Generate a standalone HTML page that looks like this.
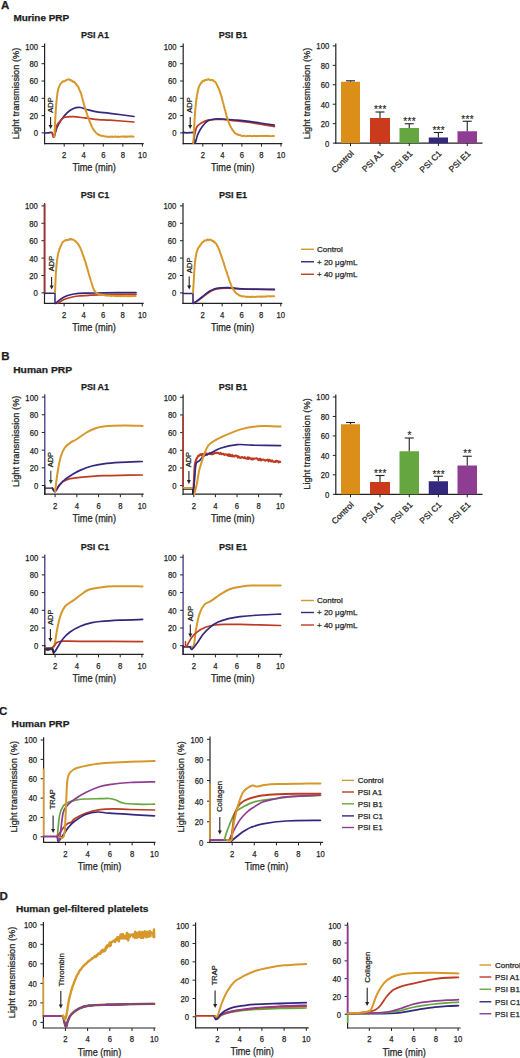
<!DOCTYPE html>
<html><head><meta charset="utf-8"><style>
html,body{margin:0;padding:0;background:#fff;overflow:hidden;width:520px;height:1058px;}
svg{display:block;font-family:"Liberation Sans", sans-serif;} text{stroke:#1e1e1e;stroke-width:0.25px;}
</style></head><body>
<svg width="520" height="1058" viewBox="0 0 520 1058">
<rect width="520" height="1058" fill="#fff"/>
<text x="1.00" y="8.80" font-size="11.5" text-anchor="start" fill="#1e1e1e" font-weight="bold">A</text>
<text x="13.40" y="21.30" font-size="9.4" text-anchor="start" fill="#1e1e1e" font-weight="bold" textLength="55.8" lengthAdjust="spacingAndGlyphs">Murine PRP</text>
<line x1="44.60" y1="43.60" x2="44.60" y2="144.20" stroke="#222" stroke-width="1.2"/>
<line x1="44.00" y1="143.60" x2="143.70" y2="143.60" stroke="#222" stroke-width="1.2"/>
<line x1="41.60" y1="132.90" x2="44.60" y2="132.90" stroke="#222" stroke-width="1.0"/>
<text x="38.00" y="136.30" font-size="9.0" text-anchor="end" fill="#1e1e1e" textLength="4.28" lengthAdjust="spacingAndGlyphs">0</text>
<line x1="41.60" y1="115.60" x2="44.60" y2="115.60" stroke="#222" stroke-width="1.0"/>
<text x="38.00" y="119.00" font-size="9.0" text-anchor="end" fill="#1e1e1e" textLength="8.56" lengthAdjust="spacingAndGlyphs">20</text>
<line x1="41.60" y1="98.30" x2="44.60" y2="98.30" stroke="#222" stroke-width="1.0"/>
<text x="38.00" y="101.70" font-size="9.0" text-anchor="end" fill="#1e1e1e" textLength="8.56" lengthAdjust="spacingAndGlyphs">40</text>
<line x1="41.60" y1="81.00" x2="44.60" y2="81.00" stroke="#222" stroke-width="1.0"/>
<text x="38.00" y="84.40" font-size="9.0" text-anchor="end" fill="#1e1e1e" textLength="8.56" lengthAdjust="spacingAndGlyphs">60</text>
<line x1="41.60" y1="63.70" x2="44.60" y2="63.70" stroke="#222" stroke-width="1.0"/>
<text x="38.00" y="67.10" font-size="9.0" text-anchor="end" fill="#1e1e1e" textLength="8.56" lengthAdjust="spacingAndGlyphs">80</text>
<line x1="41.60" y1="46.40" x2="44.60" y2="46.40" stroke="#222" stroke-width="1.0"/>
<text x="38.00" y="49.80" font-size="9.0" text-anchor="end" fill="#1e1e1e" textLength="12.84" lengthAdjust="spacingAndGlyphs">100</text>
<line x1="64.20" y1="143.60" x2="64.20" y2="146.60" stroke="#222" stroke-width="1.0"/>
<text x="64.20" y="157.90" font-size="9.0" text-anchor="middle" fill="#1e1e1e" textLength="4.28" lengthAdjust="spacingAndGlyphs">2</text>
<line x1="83.75" y1="143.60" x2="83.75" y2="146.60" stroke="#222" stroke-width="1.0"/>
<text x="83.75" y="157.90" font-size="9.0" text-anchor="middle" fill="#1e1e1e" textLength="4.28" lengthAdjust="spacingAndGlyphs">4</text>
<line x1="103.30" y1="143.60" x2="103.30" y2="146.60" stroke="#222" stroke-width="1.0"/>
<text x="103.30" y="157.90" font-size="9.0" text-anchor="middle" fill="#1e1e1e" textLength="4.28" lengthAdjust="spacingAndGlyphs">6</text>
<line x1="122.85" y1="143.60" x2="122.85" y2="146.60" stroke="#222" stroke-width="1.0"/>
<text x="122.85" y="157.90" font-size="9.0" text-anchor="middle" fill="#1e1e1e" textLength="4.28" lengthAdjust="spacingAndGlyphs">8</text>
<line x1="142.40" y1="143.60" x2="142.40" y2="146.60" stroke="#222" stroke-width="1.0"/>
<text x="142.40" y="157.90" font-size="9.0" text-anchor="middle" fill="#1e1e1e" textLength="8.56" lengthAdjust="spacingAndGlyphs">10</text>
<text x="94.15" y="171.20" font-size="10.2" text-anchor="middle" fill="#1e1e1e" textLength="43.5" lengthAdjust="spacingAndGlyphs">Time (min)</text>
<text x="95.00" y="37.60" font-size="9" text-anchor="middle" fill="#1e1e1e" font-weight="bold">PSI A1</text>
<text x="18.90" y="93.40" font-size="9.9" text-anchor="middle" fill="#1e1e1e" transform="rotate(-90 18.90 93.40)" textLength="91.5" lengthAdjust="spacingAndGlyphs">Light transmission (%)</text>
<line x1="183.20" y1="43.60" x2="183.20" y2="144.20" stroke="#222" stroke-width="1.2"/>
<line x1="182.60" y1="143.60" x2="282.30" y2="143.60" stroke="#222" stroke-width="1.2"/>
<line x1="180.20" y1="132.90" x2="183.20" y2="132.90" stroke="#222" stroke-width="1.0"/>
<text x="176.60" y="136.30" font-size="9.0" text-anchor="end" fill="#1e1e1e" textLength="4.28" lengthAdjust="spacingAndGlyphs">0</text>
<line x1="180.20" y1="115.60" x2="183.20" y2="115.60" stroke="#222" stroke-width="1.0"/>
<text x="176.60" y="119.00" font-size="9.0" text-anchor="end" fill="#1e1e1e" textLength="8.56" lengthAdjust="spacingAndGlyphs">20</text>
<line x1="180.20" y1="98.30" x2="183.20" y2="98.30" stroke="#222" stroke-width="1.0"/>
<text x="176.60" y="101.70" font-size="9.0" text-anchor="end" fill="#1e1e1e" textLength="8.56" lengthAdjust="spacingAndGlyphs">40</text>
<line x1="180.20" y1="81.00" x2="183.20" y2="81.00" stroke="#222" stroke-width="1.0"/>
<text x="176.60" y="84.40" font-size="9.0" text-anchor="end" fill="#1e1e1e" textLength="8.56" lengthAdjust="spacingAndGlyphs">60</text>
<line x1="180.20" y1="63.70" x2="183.20" y2="63.70" stroke="#222" stroke-width="1.0"/>
<text x="176.60" y="67.10" font-size="9.0" text-anchor="end" fill="#1e1e1e" textLength="8.56" lengthAdjust="spacingAndGlyphs">80</text>
<line x1="180.20" y1="46.40" x2="183.20" y2="46.40" stroke="#222" stroke-width="1.0"/>
<text x="176.60" y="49.80" font-size="9.0" text-anchor="end" fill="#1e1e1e" textLength="12.84" lengthAdjust="spacingAndGlyphs">100</text>
<line x1="202.80" y1="143.60" x2="202.80" y2="146.60" stroke="#222" stroke-width="1.0"/>
<text x="202.80" y="157.90" font-size="9.0" text-anchor="middle" fill="#1e1e1e" textLength="4.28" lengthAdjust="spacingAndGlyphs">2</text>
<line x1="222.35" y1="143.60" x2="222.35" y2="146.60" stroke="#222" stroke-width="1.0"/>
<text x="222.35" y="157.90" font-size="9.0" text-anchor="middle" fill="#1e1e1e" textLength="4.28" lengthAdjust="spacingAndGlyphs">4</text>
<line x1="241.90" y1="143.60" x2="241.90" y2="146.60" stroke="#222" stroke-width="1.0"/>
<text x="241.90" y="157.90" font-size="9.0" text-anchor="middle" fill="#1e1e1e" textLength="4.28" lengthAdjust="spacingAndGlyphs">6</text>
<line x1="261.45" y1="143.60" x2="261.45" y2="146.60" stroke="#222" stroke-width="1.0"/>
<text x="261.45" y="157.90" font-size="9.0" text-anchor="middle" fill="#1e1e1e" textLength="4.28" lengthAdjust="spacingAndGlyphs">8</text>
<line x1="281.00" y1="143.60" x2="281.00" y2="146.60" stroke="#222" stroke-width="1.0"/>
<text x="281.00" y="157.90" font-size="9.0" text-anchor="middle" fill="#1e1e1e" textLength="8.56" lengthAdjust="spacingAndGlyphs">10</text>
<text x="232.75" y="171.20" font-size="10.2" text-anchor="middle" fill="#1e1e1e" textLength="43.5" lengthAdjust="spacingAndGlyphs">Time (min)</text>
<text x="233.00" y="37.60" font-size="9" text-anchor="middle" fill="#1e1e1e" font-weight="bold">PSI B1</text>
<line x1="44.50" y1="203.10" x2="44.50" y2="304.00" stroke="#222" stroke-width="1.2"/>
<line x1="43.90" y1="303.40" x2="143.70" y2="303.40" stroke="#222" stroke-width="1.2"/>
<line x1="41.50" y1="292.90" x2="44.50" y2="292.90" stroke="#222" stroke-width="1.0"/>
<text x="37.90" y="296.30" font-size="9.0" text-anchor="end" fill="#1e1e1e" textLength="4.28" lengthAdjust="spacingAndGlyphs">0</text>
<line x1="41.50" y1="275.50" x2="44.50" y2="275.50" stroke="#222" stroke-width="1.0"/>
<text x="37.90" y="278.90" font-size="9.0" text-anchor="end" fill="#1e1e1e" textLength="8.56" lengthAdjust="spacingAndGlyphs">20</text>
<line x1="41.50" y1="258.10" x2="44.50" y2="258.10" stroke="#222" stroke-width="1.0"/>
<text x="37.90" y="261.50" font-size="9.0" text-anchor="end" fill="#1e1e1e" textLength="8.56" lengthAdjust="spacingAndGlyphs">40</text>
<line x1="41.50" y1="240.70" x2="44.50" y2="240.70" stroke="#222" stroke-width="1.0"/>
<text x="37.90" y="244.10" font-size="9.0" text-anchor="end" fill="#1e1e1e" textLength="8.56" lengthAdjust="spacingAndGlyphs">60</text>
<line x1="41.50" y1="223.30" x2="44.50" y2="223.30" stroke="#222" stroke-width="1.0"/>
<text x="37.90" y="226.70" font-size="9.0" text-anchor="end" fill="#1e1e1e" textLength="8.56" lengthAdjust="spacingAndGlyphs">80</text>
<line x1="41.50" y1="205.90" x2="44.50" y2="205.90" stroke="#222" stroke-width="1.0"/>
<text x="37.90" y="209.30" font-size="9.0" text-anchor="end" fill="#1e1e1e" textLength="12.84" lengthAdjust="spacingAndGlyphs">100</text>
<line x1="64.10" y1="303.40" x2="64.10" y2="306.40" stroke="#222" stroke-width="1.0"/>
<text x="64.10" y="317.70" font-size="9.0" text-anchor="middle" fill="#1e1e1e" textLength="4.28" lengthAdjust="spacingAndGlyphs">2</text>
<line x1="83.65" y1="303.40" x2="83.65" y2="306.40" stroke="#222" stroke-width="1.0"/>
<text x="83.65" y="317.70" font-size="9.0" text-anchor="middle" fill="#1e1e1e" textLength="4.28" lengthAdjust="spacingAndGlyphs">4</text>
<line x1="103.20" y1="303.40" x2="103.20" y2="306.40" stroke="#222" stroke-width="1.0"/>
<text x="103.20" y="317.70" font-size="9.0" text-anchor="middle" fill="#1e1e1e" textLength="4.28" lengthAdjust="spacingAndGlyphs">6</text>
<line x1="122.75" y1="303.40" x2="122.75" y2="306.40" stroke="#222" stroke-width="1.0"/>
<text x="122.75" y="317.70" font-size="9.0" text-anchor="middle" fill="#1e1e1e" textLength="4.28" lengthAdjust="spacingAndGlyphs">8</text>
<line x1="142.30" y1="303.40" x2="142.30" y2="306.40" stroke="#222" stroke-width="1.0"/>
<text x="142.30" y="317.70" font-size="9.0" text-anchor="middle" fill="#1e1e1e" textLength="8.56" lengthAdjust="spacingAndGlyphs">10</text>
<text x="94.10" y="331.00" font-size="10.2" text-anchor="middle" fill="#1e1e1e" textLength="43.5" lengthAdjust="spacingAndGlyphs">Time (min)</text>
<text x="95.00" y="197.60" font-size="9" text-anchor="middle" fill="#1e1e1e" font-weight="bold">PSI C1</text>
<line x1="183.00" y1="203.10" x2="183.00" y2="304.00" stroke="#222" stroke-width="1.2"/>
<line x1="182.40" y1="303.40" x2="282.30" y2="303.40" stroke="#222" stroke-width="1.2"/>
<line x1="180.00" y1="292.90" x2="183.00" y2="292.90" stroke="#222" stroke-width="1.0"/>
<text x="176.40" y="296.30" font-size="9.0" text-anchor="end" fill="#1e1e1e" textLength="4.28" lengthAdjust="spacingAndGlyphs">0</text>
<line x1="180.00" y1="275.50" x2="183.00" y2="275.50" stroke="#222" stroke-width="1.0"/>
<text x="176.40" y="278.90" font-size="9.0" text-anchor="end" fill="#1e1e1e" textLength="8.56" lengthAdjust="spacingAndGlyphs">20</text>
<line x1="180.00" y1="258.10" x2="183.00" y2="258.10" stroke="#222" stroke-width="1.0"/>
<text x="176.40" y="261.50" font-size="9.0" text-anchor="end" fill="#1e1e1e" textLength="8.56" lengthAdjust="spacingAndGlyphs">40</text>
<line x1="180.00" y1="240.70" x2="183.00" y2="240.70" stroke="#222" stroke-width="1.0"/>
<text x="176.40" y="244.10" font-size="9.0" text-anchor="end" fill="#1e1e1e" textLength="8.56" lengthAdjust="spacingAndGlyphs">60</text>
<line x1="180.00" y1="223.30" x2="183.00" y2="223.30" stroke="#222" stroke-width="1.0"/>
<text x="176.40" y="226.70" font-size="9.0" text-anchor="end" fill="#1e1e1e" textLength="8.56" lengthAdjust="spacingAndGlyphs">80</text>
<line x1="180.00" y1="205.90" x2="183.00" y2="205.90" stroke="#222" stroke-width="1.0"/>
<text x="176.40" y="209.30" font-size="9.0" text-anchor="end" fill="#1e1e1e" textLength="12.84" lengthAdjust="spacingAndGlyphs">100</text>
<line x1="202.60" y1="303.40" x2="202.60" y2="306.40" stroke="#222" stroke-width="1.0"/>
<text x="202.60" y="317.70" font-size="9.0" text-anchor="middle" fill="#1e1e1e" textLength="4.28" lengthAdjust="spacingAndGlyphs">2</text>
<line x1="222.15" y1="303.40" x2="222.15" y2="306.40" stroke="#222" stroke-width="1.0"/>
<text x="222.15" y="317.70" font-size="9.0" text-anchor="middle" fill="#1e1e1e" textLength="4.28" lengthAdjust="spacingAndGlyphs">4</text>
<line x1="241.70" y1="303.40" x2="241.70" y2="306.40" stroke="#222" stroke-width="1.0"/>
<text x="241.70" y="317.70" font-size="9.0" text-anchor="middle" fill="#1e1e1e" textLength="4.28" lengthAdjust="spacingAndGlyphs">6</text>
<line x1="261.25" y1="303.40" x2="261.25" y2="306.40" stroke="#222" stroke-width="1.0"/>
<text x="261.25" y="317.70" font-size="9.0" text-anchor="middle" fill="#1e1e1e" textLength="4.28" lengthAdjust="spacingAndGlyphs">8</text>
<line x1="280.80" y1="303.40" x2="280.80" y2="306.40" stroke="#222" stroke-width="1.0"/>
<text x="280.80" y="317.70" font-size="9.0" text-anchor="middle" fill="#1e1e1e" textLength="8.56" lengthAdjust="spacingAndGlyphs">10</text>
<text x="232.65" y="331.00" font-size="10.2" text-anchor="middle" fill="#1e1e1e" textLength="43.5" lengthAdjust="spacingAndGlyphs">Time (min)</text>
<text x="233.00" y="197.60" font-size="9" text-anchor="middle" fill="#1e1e1e" font-weight="bold">PSI E1</text>
<path d="M44.60,133.00 C45.17,132.98 46.77,132.97 48.00,132.90 C49.23,132.83 51.00,131.93 52.00,132.60 C53.00,133.27 53.18,137.72 54.00,136.90 C54.82,136.08 55.65,130.58 56.90,127.70 C58.15,124.82 59.77,122.10 61.50,119.60 C63.23,117.10 65.38,114.52 67.30,112.70 C69.22,110.88 70.88,109.57 73.00,108.70 C75.12,107.83 77.50,107.32 80.00,107.50 C82.50,107.68 84.92,109.03 88.00,109.80 C91.08,110.57 94.83,111.52 98.50,112.10 C102.17,112.68 104.08,112.57 110.00,113.30 C115.92,114.03 130.00,115.97 134.00,116.50" fill="none" stroke="#33287E" stroke-width="1.7" stroke-linejoin="round" stroke-linecap="round" opacity="1"/>
<path d="M52.00,132.60 C52.33,133.32 53.18,138.10 54.00,136.90 C54.82,135.70 55.65,128.28 56.90,125.40 C58.15,122.52 60.15,120.95 61.50,119.60 C62.85,118.25 63.08,117.78 65.00,117.30 C66.92,116.82 69.73,116.60 73.00,116.70 C76.27,116.80 80.35,117.42 84.60,117.90 C88.85,118.38 94.27,119.22 98.50,119.60 C102.73,119.98 104.08,119.80 110.00,120.20 C115.92,120.60 130.00,121.70 134.00,122.00" fill="none" stroke="#BC3B22" stroke-width="1.7" stroke-linejoin="round" stroke-linecap="round" opacity="1"/>
<path d="M54.40,136.98 L54.45,135.34 L54.55,133.52 L54.63,131.80 L54.71,130.13 L54.79,128.51 L54.86,126.85 L54.96,125.05 L55.04,123.47 L55.13,121.86 L55.22,119.80 L55.31,118.19 L55.41,116.39 L55.53,114.68 L55.63,113.04 L55.73,111.22 L55.86,109.79 L55.96,108.50 L56.06,107.07 L56.19,105.36 L56.33,103.47 L56.51,101.38 L56.69,99.69 L56.84,97.96 L57.04,96.26 L57.29,94.33 L57.59,92.20 L57.95,90.45 L58.31,88.79 L58.81,87.60 L59.27,86.11 L60.01,84.77 L60.70,83.57 L61.45,82.88 L62.27,81.93 L63.16,81.12 L63.80,81.55 L64.49,81.21 L65.23,80.75 L66.02,80.35 L66.83,79.72 L67.64,79.50 L68.45,79.50 L69.23,79.28 L69.97,80.16 L70.71,79.98 L71.44,80.78 L72.17,80.66 L72.87,81.72 L73.55,82.08 L74.20,81.65 L74.80,82.38 L75.62,83.93 L76.35,84.27 L77.02,85.74 L77.67,86.09 L78.30,86.83 L78.95,88.68 L79.57,90.17 L80.31,91.57 L80.90,93.11 L81.40,94.75 L81.90,96.81 L82.40,98.60 L82.90,100.25 L83.30,101.88 L83.70,103.32 L84.11,104.77 L84.57,106.68 L85.15,108.26 L85.62,109.92 L86.20,111.67 L86.78,113.30 L87.29,115.08 L87.91,116.64 L88.41,118.35 L89.07,119.89 L89.65,121.49 L90.39,123.15 L91.03,124.61 L91.69,126.40 L92.37,127.71 L93.08,128.75 L93.80,130.19 L94.57,130.91 L95.37,131.95 L96.18,133.01 L97.02,133.64 L97.90,134.01 L98.50,134.84 L99.21,134.84 L99.95,135.17 L100.70,135.69 L101.48,135.68 L102.26,135.84 L103.04,135.88 L103.82,136.03 L104.55,136.41 L105.26,136.39 L106.08,136.68 L106.71,136.60 L107.67,136.66 L108.31,136.92 L109.08,136.69 L110.00,136.74 L110.76,136.89 L111.64,136.54 L112.29,136.53 L112.98,136.90 L113.72,136.86 L114.48,136.57 L115.28,136.53 L116.11,136.80 L116.96,136.90 L117.83,136.52 L118.72,136.89 L119.62,136.84 L120.53,136.70 L121.45,136.59 L122.36,136.43 L123.28,136.38 L124.18,136.84 L125.08,136.47 L125.96,136.69 L126.82,136.46 L127.66,136.73 L128.48,136.61 L129.26,136.45 L130.01,136.38 L130.73,136.64 L131.40,136.31 L132.02,136.38 L132.87,136.54 L133.59,136.68" fill="none" stroke="#D6982A" stroke-width="2.0" stroke-linejoin="round" stroke-linecap="round"/>
<line x1="50.60" y1="117.00" x2="50.60" y2="126.50" stroke="#222" stroke-width="1.1"/>
<path d="M48.60,125.00 L52.60,125.00 L50.60,129.00 Z" fill="#222"/>
<text x="52.60" y="105.00" font-size="7.5" text-anchor="middle" fill="#1e1e1e" transform="rotate(-90 52.60 105.00)">ADP</text>
<path d="M183.30,132.50 L187.00,132.80 L193.70,132.30" fill="none" stroke="#33287E" stroke-width="1.8" stroke-linejoin="round" stroke-linecap="round" opacity="1"/>
<path d="M193.20,143.00 C193.75,140.45 194.98,131.12 196.50,127.70 C198.02,124.28 200.38,123.75 202.30,122.50 C204.22,121.25 205.88,120.70 208.00,120.20 C210.12,119.70 212.50,119.62 215.00,119.50 C217.50,119.38 219.33,119.25 223.00,119.50 C226.67,119.75 232.50,120.50 237.00,121.00 C241.50,121.50 243.78,121.57 250.00,122.50 C256.22,123.43 270.25,125.92 274.30,126.60" fill="none" stroke="#BC3B22" stroke-width="1.7" stroke-linejoin="round" stroke-linecap="round" opacity="1"/>
<path d="M193.70,132.30 C193.92,134.08 194.33,142.62 195.00,143.00 C195.67,143.38 196.48,137.35 197.70,134.60 C198.92,131.85 200.58,128.80 202.30,126.50 C204.02,124.20 205.88,122.05 208.00,120.80 C210.12,119.55 212.50,119.30 215.00,119.00 C217.50,118.70 219.33,118.80 223.00,119.00 C226.67,119.20 233.33,119.90 237.00,120.20 C240.67,120.50 241.17,120.33 245.00,120.80 C248.83,121.27 255.12,122.27 260.00,123.00 C264.88,123.73 271.92,124.83 274.30,125.20" fill="none" stroke="#33287E" stroke-width="1.7" stroke-linejoin="round" stroke-linecap="round" opacity="1"/>
<path d="M193.20,142.99 L193.44,141.45 L193.59,139.83 L193.70,137.82 L193.80,135.88 L193.89,134.10 L193.98,132.22 L194.06,130.51 L194.14,128.81 L194.21,127.08 L194.29,125.35 L194.37,123.70 L194.46,121.76 L194.57,119.88 L194.66,118.18 L194.78,116.74 L194.89,114.71 L195.05,113.00 L195.19,110.98 L195.36,109.28 L195.50,107.53 L195.69,105.66 L195.88,104.04 L196.04,102.20 L196.29,100.19 L196.57,98.53 L196.77,96.95 L197.04,94.75 L197.39,93.72 L197.61,92.54 L197.84,90.55 L198.34,88.90 L198.97,86.61 L199.67,85.10 L200.43,84.06 L201.07,82.68 L201.78,82.49 L202.60,81.07 L203.25,80.76 L203.96,81.09 L204.71,80.31 L205.48,80.06 L206.25,80.04 L207.02,79.74 L207.75,79.52 L208.49,79.05 L209.28,79.78 L210.05,80.08 L210.81,80.18 L211.56,80.00 L212.28,79.91 L212.97,80.25 L213.58,81.00 L214.40,81.65 L215.16,81.83 L215.89,82.90 L216.60,84.12 L217.30,85.51 L218.03,87.32 L218.74,88.64 L219.43,90.22 L219.98,92.17 L220.66,94.04 L221.20,95.82 L221.70,97.42 L222.10,98.98 L222.50,100.47 L222.90,102.19 L223.40,103.78 L223.80,105.53 L224.30,107.21 L224.71,108.99 L225.22,110.60 L225.63,112.29 L226.05,113.88 L226.46,115.55 L226.98,117.07 L227.39,118.63 L228.00,120.33 L228.59,121.98 L229.16,123.55 L229.90,125.46 L230.53,126.47 L231.20,127.93 L231.84,128.62 L232.49,130.03 L233.17,130.74 L233.89,131.56 L234.66,132.67 L235.50,133.49 L236.40,133.65 L237.01,134.13 L237.62,134.69 L238.27,134.74 L238.94,134.93 L239.66,135.01 L240.44,135.20 L241.28,135.65 L242.21,135.98 L243.00,136.09 L243.62,135.90 L244.25,135.71 L244.90,135.90 L245.57,136.16 L246.26,136.20 L246.97,136.12 L247.70,135.91 L248.46,136.06 L249.24,136.03 L250.04,136.10 L250.88,135.91 L251.74,136.24 L252.63,136.20 L253.56,135.83 L254.51,135.89 L255.32,136.19 L255.98,135.89 L256.70,136.22 L257.45,136.01 L258.23,136.10 L259.05,136.10 L259.89,135.85 L260.75,135.88 L261.63,135.86 L262.52,136.07 L263.41,136.07 L264.31,135.79 L265.20,136.16 L266.08,135.92 L266.95,135.82 L267.80,135.91 L268.63,136.18 L269.43,135.96 L270.20,135.99 L270.94,136.13 L271.63,136.15 L272.28,136.04 L273.15,135.87 L273.89,135.95" fill="none" stroke="#D6982A" stroke-width="2.0" stroke-linejoin="round" stroke-linecap="round"/>
<line x1="190.20" y1="117.00" x2="190.20" y2="126.50" stroke="#222" stroke-width="1.1"/>
<path d="M188.20,125.00 L192.20,125.00 L190.20,129.00 Z" fill="#222"/>
<text x="192.40" y="105.00" font-size="7.5" text-anchor="middle" fill="#1e1e1e" transform="rotate(-90 192.40 105.00)">ADP</text>
<line x1="44.60" y1="204.00" x2="44.60" y2="293.00" stroke="#9a3030" stroke-width="1.8"/>
<path d="M44.50,293.20 L55.00,293.20 L55.00,303.50" fill="none" stroke="#3a2270" stroke-width="1.5" stroke-linejoin="round" stroke-linecap="round" opacity="1"/>
<path d="M57.80,303.30 C58.77,302.72 61.48,300.77 63.60,299.80 C65.72,298.83 68.00,298.13 70.50,297.50 C73.00,296.87 75.32,296.38 78.60,296.00 C81.88,295.62 85.97,295.43 90.20,295.20 C94.43,294.97 96.37,294.77 104.00,294.60 C111.63,294.43 130.67,294.27 136.00,294.20" fill="none" stroke="#BC3B22" stroke-width="1.7" stroke-linejoin="round" stroke-linecap="round" opacity="1"/>
<path d="M55.50,303.30 C56.47,302.53 59.38,299.95 61.30,298.70 C63.22,297.45 64.88,296.58 67.00,295.80 C69.12,295.02 71.10,294.43 74.00,294.00 C76.90,293.57 79.40,293.38 84.40,293.20 C89.40,293.02 95.40,293.02 104.00,292.90 C112.60,292.78 130.67,292.57 136.00,292.50" fill="none" stroke="#33287E" stroke-width="1.7" stroke-linejoin="round" stroke-linecap="round" opacity="1"/>
<path d="M55.00,292.18 L55.08,290.73 L55.15,289.17 L55.21,287.83 L55.27,285.94 L55.37,283.89 L55.44,282.11 L55.53,280.38 L55.61,278.85 L55.70,276.79 L55.79,275.29 L55.88,273.50 L56.00,271.65 L56.14,269.91 L56.28,268.32 L56.43,266.48 L56.58,264.53 L56.79,262.68 L57.00,260.76 L57.22,259.36 L57.41,258.00 L57.65,256.44 L57.89,255.05 L58.18,253.60 L58.58,252.07 L59.00,250.76 L59.45,248.89 L60.07,248.00 L60.53,246.48 L61.19,245.22 L61.90,243.59 L62.54,242.50 L63.31,241.60 L64.18,241.01 L64.84,240.49 L65.56,239.92 L66.31,240.37 L67.10,240.07 L67.89,240.05 L68.67,239.55 L69.44,239.29 L70.16,239.47 L70.87,238.83 L71.60,239.54 L72.32,239.47 L73.03,239.44 L73.71,239.80 L74.39,240.55 L75.04,240.72 L75.68,241.47 L76.30,242.22 L76.96,242.70 L77.59,243.19 L78.19,244.45 L78.96,245.44 L79.73,246.87 L80.50,248.41 L81.16,250.10 L81.79,251.47 L82.30,253.06 L82.94,254.92 L83.58,256.44 L84.09,258.10 L84.73,260.14 L85.37,261.67 L85.82,263.13 L86.26,264.90 L86.81,266.79 L87.37,268.64 L87.81,269.98 L88.26,271.69 L88.69,273.46 L89.22,275.34 L89.72,277.05 L90.34,278.82 L90.76,280.51 L91.28,281.99 L91.77,283.76 L92.36,285.30 L92.82,287.03 L93.49,288.59 L94.25,290.32 L95.02,291.35 L95.66,292.28 L96.50,292.94 L97.31,293.51 L98.15,293.87 L98.78,294.32 L99.51,294.38 L100.38,294.58 L101.41,294.73 L102.28,295.14 L103.14,294.98 L103.74,295.12 L104.37,295.12 L105.03,295.48 L105.71,295.50 L106.42,295.56 L107.15,295.37 L107.92,295.63 L108.70,295.64 L109.52,295.56 L110.36,295.56 L111.23,296.11 L112.13,295.71 L113.06,295.84 L114.01,295.85 L115.00,296.05 L115.63,295.81 L116.30,296.02 L117.02,295.98 L117.76,296.22 L118.54,295.81 L119.35,295.98 L120.18,296.07 L121.03,296.31 L121.89,296.08 L122.77,296.06 L123.65,296.16 L124.54,295.97 L125.43,295.83 L126.31,296.06 L127.19,296.26 L128.05,296.17 L128.90,295.93 L129.72,296.13 L130.52,296.21 L131.30,295.91 L132.04,296.07 L132.74,295.95 L133.41,295.89 L134.03,295.90 L134.87,295.86 L135.59,295.93" fill="none" stroke="#D6982A" stroke-width="2.0" stroke-linejoin="round" stroke-linecap="round"/>
<line x1="51.60" y1="277.00" x2="51.60" y2="287.00" stroke="#222" stroke-width="1.1"/>
<path d="M49.60,285.50 L53.60,285.50 L51.60,289.50 Z" fill="#222"/>
<text x="53.80" y="263.50" font-size="7.5" text-anchor="middle" fill="#1e1e1e" transform="rotate(-90 53.80 263.50)">ADP</text>
<path d="M183.00,293.50 L193.00,293.50 L193.00,303.50" fill="none" stroke="#3a2270" stroke-width="1.6" stroke-linejoin="round" stroke-linecap="round" opacity="1"/>
<path d="M193.50,303.30 C194.47,302.68 197.38,300.95 199.30,299.60 C201.22,298.25 203.08,296.60 205.00,295.20 C206.92,293.80 208.87,292.27 210.80,291.20 C212.73,290.13 213.70,289.32 216.60,288.80 C219.50,288.28 223.97,288.07 228.20,288.10 C232.43,288.13 234.32,288.75 242.00,289.00 C249.68,289.25 268.92,289.50 274.30,289.60" fill="none" stroke="#BC3B22" stroke-width="1.7" stroke-linejoin="round" stroke-linecap="round" opacity="1"/>
<path d="M193.50,303.30 C194.47,302.62 197.38,300.65 199.30,299.20 C201.22,297.75 203.08,296.03 205.00,294.60 C206.92,293.17 208.87,291.65 210.80,290.60 C212.73,289.55 213.70,288.78 216.60,288.30 C219.50,287.82 223.97,287.62 228.20,287.70 C232.43,287.78 234.32,288.52 242.00,288.80 C249.68,289.08 268.92,289.30 274.30,289.40" fill="none" stroke="#33287E" stroke-width="1.7" stroke-linejoin="round" stroke-linecap="round" opacity="1"/>
<path d="M193.00,292.80 L193.11,291.33 L193.21,289.59 L193.31,288.17 L193.41,286.14 L193.52,284.35 L193.63,282.79 L193.74,280.96 L193.84,279.22 L193.95,277.59 L194.05,275.91 L194.14,274.50 L194.24,272.56 L194.36,270.59 L194.49,268.94 L194.60,267.14 L194.73,265.30 L194.87,263.95 L195.05,262.07 L195.26,260.04 L195.53,258.26 L195.81,256.57 L196.11,254.73 L196.52,253.11 L196.92,251.30 L197.55,249.75 L198.26,247.94 L199.00,246.74 L199.66,246.52 L200.34,244.82 L201.04,244.46 L201.70,242.95 L202.69,242.01 L203.40,241.73 L204.06,241.18 L204.74,240.31 L205.50,240.60 L206.21,240.42 L206.97,239.71 L207.76,239.45 L208.56,240.20 L209.33,239.78 L210.06,239.52 L210.77,239.98 L211.47,239.97 L212.15,240.94 L212.83,241.02 L213.50,241.06 L214.29,242.48 L215.07,242.39 L215.84,243.44 L216.60,244.18 L217.25,246.03 L217.99,246.77 L218.56,248.51 L219.28,249.81 L219.72,251.39 L220.34,253.16 L220.94,254.75 L221.48,256.30 L222.03,257.98 L222.60,259.74 L223.09,261.34 L223.62,262.72 L224.04,264.21 L224.60,265.77 L225.14,267.70 L225.73,269.54 L226.36,271.03 L226.89,272.67 L227.42,274.57 L227.96,276.13 L228.49,277.45 L229.01,279.34 L229.63,281.27 L230.31,282.95 L230.90,284.52 L231.64,286.49 L232.41,288.30 L233.03,289.00 L233.65,289.89 L234.26,290.73 L235.00,291.99 L235.75,292.81 L236.57,293.49 L237.20,294.04 L237.84,294.29 L238.53,294.81 L239.25,295.49 L240.01,295.61 L240.79,295.73 L241.59,296.31 L242.34,296.22 L242.99,296.32 L243.62,296.34 L244.27,296.50 L244.97,296.61 L245.77,296.69 L246.70,297.05 L247.80,296.78 L248.69,296.78 L249.33,296.96 L250.00,297.11 L250.71,296.78 L251.44,297.00 L252.20,296.78 L252.97,296.86 L253.77,296.85 L254.58,296.99 L255.40,296.87 L256.23,296.72 L257.07,296.86 L257.91,296.59 L258.75,296.57 L259.58,296.84 L260.35,296.61 L261.10,296.71 L261.88,296.47 L262.70,296.75 L263.55,296.58 L264.41,296.38 L265.29,296.70 L266.17,296.45 L267.04,296.37 L267.91,296.31 L268.76,296.22 L269.59,296.25 L270.39,296.48 L271.14,296.19 L271.85,296.23 L272.51,296.31 L273.39,296.34 L274.10,296.24" fill="none" stroke="#D6982A" stroke-width="2.0" stroke-linejoin="round" stroke-linecap="round"/>
<line x1="189.20" y1="276.50" x2="189.20" y2="287.00" stroke="#222" stroke-width="1.1"/>
<path d="M187.20,285.50 L191.20,285.50 L189.20,289.50 Z" fill="#222"/>
<text x="191.60" y="265.20" font-size="7.5" text-anchor="middle" fill="#1e1e1e" transform="rotate(-90 191.60 265.20)">ADP</text>
<line x1="335.80" y1="43.40" x2="335.80" y2="143.70" stroke="#222" stroke-width="1.2"/>
<line x1="335.20" y1="143.10" x2="482.50" y2="143.10" stroke="#222" stroke-width="1.2"/>
<line x1="332.80" y1="143.10" x2="335.80" y2="143.10" stroke="#222" stroke-width="1.0"/>
<text x="329.20" y="146.50" font-size="9.0" text-anchor="end" fill="#1e1e1e" textLength="4.28" lengthAdjust="spacingAndGlyphs">0</text>
<line x1="332.80" y1="123.66" x2="335.80" y2="123.66" stroke="#222" stroke-width="1.0"/>
<text x="329.20" y="127.06" font-size="9.0" text-anchor="end" fill="#1e1e1e" textLength="8.56" lengthAdjust="spacingAndGlyphs">20</text>
<line x1="332.80" y1="104.22" x2="335.80" y2="104.22" stroke="#222" stroke-width="1.0"/>
<text x="329.20" y="107.62" font-size="9.0" text-anchor="end" fill="#1e1e1e" textLength="8.56" lengthAdjust="spacingAndGlyphs">40</text>
<line x1="332.80" y1="84.78" x2="335.80" y2="84.78" stroke="#222" stroke-width="1.0"/>
<text x="329.20" y="88.18" font-size="9.0" text-anchor="end" fill="#1e1e1e" textLength="8.56" lengthAdjust="spacingAndGlyphs">60</text>
<line x1="332.80" y1="65.34" x2="335.80" y2="65.34" stroke="#222" stroke-width="1.0"/>
<text x="329.20" y="68.74" font-size="9.0" text-anchor="end" fill="#1e1e1e" textLength="8.56" lengthAdjust="spacingAndGlyphs">80</text>
<line x1="332.80" y1="45.90" x2="335.80" y2="45.90" stroke="#222" stroke-width="1.0"/>
<text x="329.20" y="49.30" font-size="9.0" text-anchor="end" fill="#1e1e1e" textLength="12.84" lengthAdjust="spacingAndGlyphs">100</text>
<text x="310.20" y="93.40" font-size="9.9" text-anchor="middle" fill="#1e1e1e" transform="rotate(-90 310.20 93.40)" textLength="91.5" lengthAdjust="spacingAndGlyphs">Light transmission (%)</text>
<rect x="341.00" y="81.75" width="19.00" height="61.35" fill="#DB8E18"/>
<line x1="350.50" y1="81.75" x2="350.50" y2="80.80" stroke="#222" stroke-width="1.1"/>
<line x1="346.00" y1="80.80" x2="355.00" y2="80.80" stroke="#222" stroke-width="1.1"/>
<line x1="350.50" y1="143.10" x2="350.50" y2="146.10" stroke="#222" stroke-width="1.0"/>
<text x="354.30" y="154.10" font-size="8.5" text-anchor="end" fill="#1e1e1e" transform="rotate(-45 354.30 154.10)">Control</text>
<rect x="370.00" y="118.00" width="20.00" height="25.10" fill="#CB3A1B"/>
<line x1="380.00" y1="118.00" x2="380.00" y2="112.00" stroke="#222" stroke-width="1.1"/>
<line x1="375.50" y1="112.00" x2="384.50" y2="112.00" stroke="#222" stroke-width="1.1"/>
<text x="380.30" y="112.60" font-size="10" text-anchor="middle" fill="#222" style="stroke:#222;stroke-width:0.15px" letter-spacing="0.3">***</text>
<line x1="380.00" y1="143.10" x2="380.00" y2="146.10" stroke="#222" stroke-width="1.0"/>
<text x="383.80" y="154.10" font-size="8.5" text-anchor="end" fill="#1e1e1e" transform="rotate(-45 383.80 154.10)">PSI A1</text>
<rect x="399.50" y="128.00" width="19.50" height="15.10" fill="#66A640"/>
<line x1="409.25" y1="128.00" x2="409.25" y2="123.75" stroke="#222" stroke-width="1.1"/>
<line x1="404.75" y1="123.75" x2="413.75" y2="123.75" stroke="#222" stroke-width="1.1"/>
<text x="409.55" y="125.35" font-size="10" text-anchor="middle" fill="#222" style="stroke:#222;stroke-width:0.15px" letter-spacing="0.3">***</text>
<line x1="409.25" y1="143.10" x2="409.25" y2="146.10" stroke="#222" stroke-width="1.0"/>
<text x="413.05" y="154.10" font-size="8.5" text-anchor="end" fill="#1e1e1e" transform="rotate(-45 413.05 154.10)">PSI B1</text>
<rect x="428.75" y="137.50" width="19.25" height="5.60" fill="#33287E"/>
<line x1="438.38" y1="137.50" x2="438.38" y2="132.50" stroke="#222" stroke-width="1.1"/>
<line x1="433.88" y1="132.50" x2="442.88" y2="132.50" stroke="#222" stroke-width="1.1"/>
<text x="438.68" y="134.10" font-size="10" text-anchor="middle" fill="#222" style="stroke:#222;stroke-width:0.15px" letter-spacing="0.3">***</text>
<line x1="438.38" y1="143.10" x2="438.38" y2="146.10" stroke="#222" stroke-width="1.0"/>
<text x="442.18" y="154.10" font-size="8.5" text-anchor="end" fill="#1e1e1e" transform="rotate(-45 442.18 154.10)">PSI C1</text>
<rect x="457.50" y="131.25" width="19.50" height="11.85" fill="#8E3D92"/>
<line x1="467.25" y1="131.25" x2="467.25" y2="121.25" stroke="#222" stroke-width="1.1"/>
<line x1="462.75" y1="121.25" x2="471.75" y2="121.25" stroke="#222" stroke-width="1.1"/>
<text x="467.55" y="122.85" font-size="10" text-anchor="middle" fill="#222" style="stroke:#222;stroke-width:0.15px" letter-spacing="0.3">***</text>
<line x1="467.25" y1="143.10" x2="467.25" y2="146.10" stroke="#222" stroke-width="1.0"/>
<text x="471.05" y="154.10" font-size="8.5" text-anchor="end" fill="#1e1e1e" transform="rotate(-45 471.05 154.10)">PSI E1</text>
<line x1="301.00" y1="249.25" x2="314.00" y2="249.25" stroke="#D6982A" stroke-width="1.4"/>
<text x="317.00" y="252.15" font-size="8" text-anchor="start" fill="#1e1e1e">Control</text>
<line x1="301.00" y1="261.75" x2="314.00" y2="261.75" stroke="#33287E" stroke-width="1.4"/>
<text x="317.00" y="264.65" font-size="8" text-anchor="start" fill="#1e1e1e">+ 20 μg/mL</text>
<line x1="301.00" y1="274.25" x2="314.00" y2="274.25" stroke="#BC3B22" stroke-width="1.4"/>
<text x="317.00" y="277.15" font-size="8" text-anchor="start" fill="#1e1e1e">+ 40 μg/mL</text>
<text x="1.20" y="360.20" font-size="11.5" text-anchor="start" fill="#1e1e1e" font-weight="bold">B</text>
<text x="13.20" y="372.50" font-size="9.4" text-anchor="start" fill="#1e1e1e" font-weight="bold" textLength="58.9" lengthAdjust="spacingAndGlyphs">Human PRP</text>
<line x1="44.80" y1="394.30" x2="44.80" y2="494.80" stroke="#33287E" stroke-width="1.2"/>
<line x1="44.20" y1="494.20" x2="143.70" y2="494.20" stroke="#222" stroke-width="1.2"/>
<line x1="41.80" y1="485.50" x2="44.80" y2="485.50" stroke="#222" stroke-width="1.0"/>
<text x="38.20" y="488.90" font-size="9.0" text-anchor="end" fill="#1e1e1e" textLength="4.28" lengthAdjust="spacingAndGlyphs">0</text>
<line x1="41.80" y1="467.82" x2="44.80" y2="467.82" stroke="#222" stroke-width="1.0"/>
<text x="38.20" y="471.22" font-size="9.0" text-anchor="end" fill="#1e1e1e" textLength="8.56" lengthAdjust="spacingAndGlyphs">20</text>
<line x1="41.80" y1="450.14" x2="44.80" y2="450.14" stroke="#222" stroke-width="1.0"/>
<text x="38.20" y="453.54" font-size="9.0" text-anchor="end" fill="#1e1e1e" textLength="8.56" lengthAdjust="spacingAndGlyphs">40</text>
<line x1="41.80" y1="432.46" x2="44.80" y2="432.46" stroke="#222" stroke-width="1.0"/>
<text x="38.20" y="435.86" font-size="9.0" text-anchor="end" fill="#1e1e1e" textLength="8.56" lengthAdjust="spacingAndGlyphs">60</text>
<line x1="41.80" y1="414.78" x2="44.80" y2="414.78" stroke="#222" stroke-width="1.0"/>
<text x="38.20" y="418.18" font-size="9.0" text-anchor="end" fill="#1e1e1e" textLength="8.56" lengthAdjust="spacingAndGlyphs">80</text>
<line x1="41.80" y1="397.10" x2="44.80" y2="397.10" stroke="#222" stroke-width="1.0"/>
<text x="38.20" y="400.50" font-size="9.0" text-anchor="end" fill="#1e1e1e" textLength="12.84" lengthAdjust="spacingAndGlyphs">100</text>
<line x1="55.10" y1="494.20" x2="55.10" y2="497.20" stroke="#222" stroke-width="1.0"/>
<text x="55.10" y="508.50" font-size="9.0" text-anchor="middle" fill="#1e1e1e" textLength="4.28" lengthAdjust="spacingAndGlyphs">2</text>
<line x1="76.85" y1="494.20" x2="76.85" y2="497.20" stroke="#222" stroke-width="1.0"/>
<text x="76.85" y="508.50" font-size="9.0" text-anchor="middle" fill="#1e1e1e" textLength="4.28" lengthAdjust="spacingAndGlyphs">4</text>
<line x1="98.60" y1="494.20" x2="98.60" y2="497.20" stroke="#222" stroke-width="1.0"/>
<text x="98.60" y="508.50" font-size="9.0" text-anchor="middle" fill="#1e1e1e" textLength="4.28" lengthAdjust="spacingAndGlyphs">6</text>
<line x1="120.35" y1="494.20" x2="120.35" y2="497.20" stroke="#222" stroke-width="1.0"/>
<text x="120.35" y="508.50" font-size="9.0" text-anchor="middle" fill="#1e1e1e" textLength="4.28" lengthAdjust="spacingAndGlyphs">8</text>
<line x1="142.10" y1="494.20" x2="142.10" y2="497.20" stroke="#222" stroke-width="1.0"/>
<text x="142.10" y="508.50" font-size="9.0" text-anchor="middle" fill="#1e1e1e" textLength="8.56" lengthAdjust="spacingAndGlyphs">10</text>
<text x="94.25" y="521.80" font-size="10.2" text-anchor="middle" fill="#1e1e1e" textLength="43.5" lengthAdjust="spacingAndGlyphs">Time (min)</text>
<text x="95.00" y="389.60" font-size="9" text-anchor="middle" fill="#1e1e1e" font-weight="bold">PSI A1</text>
<text x="18.90" y="441.30" font-size="9.9" text-anchor="middle" fill="#1e1e1e" transform="rotate(-90 18.90 441.30)" textLength="91.5" lengthAdjust="spacingAndGlyphs">Light transmission (%)</text>
<line x1="183.10" y1="394.50" x2="183.10" y2="494.80" stroke="#222" stroke-width="1.2"/>
<line x1="182.50" y1="494.20" x2="282.30" y2="494.20" stroke="#222" stroke-width="1.2"/>
<line x1="180.10" y1="485.60" x2="183.10" y2="485.60" stroke="#222" stroke-width="1.0"/>
<text x="176.50" y="489.00" font-size="9.0" text-anchor="end" fill="#1e1e1e" textLength="4.28" lengthAdjust="spacingAndGlyphs">0</text>
<line x1="180.10" y1="467.94" x2="183.10" y2="467.94" stroke="#222" stroke-width="1.0"/>
<text x="176.50" y="471.34" font-size="9.0" text-anchor="end" fill="#1e1e1e" textLength="8.56" lengthAdjust="spacingAndGlyphs">20</text>
<line x1="180.10" y1="450.28" x2="183.10" y2="450.28" stroke="#222" stroke-width="1.0"/>
<text x="176.50" y="453.68" font-size="9.0" text-anchor="end" fill="#1e1e1e" textLength="8.56" lengthAdjust="spacingAndGlyphs">40</text>
<line x1="180.10" y1="432.62" x2="183.10" y2="432.62" stroke="#222" stroke-width="1.0"/>
<text x="176.50" y="436.02" font-size="9.0" text-anchor="end" fill="#1e1e1e" textLength="8.56" lengthAdjust="spacingAndGlyphs">60</text>
<line x1="180.10" y1="414.96" x2="183.10" y2="414.96" stroke="#222" stroke-width="1.0"/>
<text x="176.50" y="418.36" font-size="9.0" text-anchor="end" fill="#1e1e1e" textLength="8.56" lengthAdjust="spacingAndGlyphs">80</text>
<line x1="180.10" y1="397.30" x2="183.10" y2="397.30" stroke="#222" stroke-width="1.0"/>
<text x="176.50" y="400.70" font-size="9.0" text-anchor="end" fill="#1e1e1e" textLength="12.84" lengthAdjust="spacingAndGlyphs">100</text>
<line x1="193.80" y1="494.20" x2="193.80" y2="497.20" stroke="#222" stroke-width="1.0"/>
<text x="193.80" y="508.50" font-size="9.0" text-anchor="middle" fill="#1e1e1e" textLength="4.28" lengthAdjust="spacingAndGlyphs">2</text>
<line x1="215.40" y1="494.20" x2="215.40" y2="497.20" stroke="#222" stroke-width="1.0"/>
<text x="215.40" y="508.50" font-size="9.0" text-anchor="middle" fill="#1e1e1e" textLength="4.28" lengthAdjust="spacingAndGlyphs">4</text>
<line x1="237.00" y1="494.20" x2="237.00" y2="497.20" stroke="#222" stroke-width="1.0"/>
<text x="237.00" y="508.50" font-size="9.0" text-anchor="middle" fill="#1e1e1e" textLength="4.28" lengthAdjust="spacingAndGlyphs">6</text>
<line x1="258.60" y1="494.20" x2="258.60" y2="497.20" stroke="#222" stroke-width="1.0"/>
<text x="258.60" y="508.50" font-size="9.0" text-anchor="middle" fill="#1e1e1e" textLength="4.28" lengthAdjust="spacingAndGlyphs">8</text>
<line x1="280.20" y1="494.20" x2="280.20" y2="497.20" stroke="#222" stroke-width="1.0"/>
<text x="280.20" y="508.50" font-size="9.0" text-anchor="middle" fill="#1e1e1e" textLength="8.56" lengthAdjust="spacingAndGlyphs">10</text>
<text x="232.70" y="521.80" font-size="10.2" text-anchor="middle" fill="#1e1e1e" textLength="43.5" lengthAdjust="spacingAndGlyphs">Time (min)</text>
<text x="233.00" y="389.60" font-size="9" text-anchor="middle" fill="#1e1e1e" font-weight="bold">PSI B1</text>
<line x1="44.80" y1="554.40" x2="44.80" y2="655.00" stroke="#33287E" stroke-width="1.2"/>
<line x1="44.20" y1="654.40" x2="143.70" y2="654.40" stroke="#222" stroke-width="1.2"/>
<line x1="41.80" y1="645.70" x2="44.80" y2="645.70" stroke="#222" stroke-width="1.0"/>
<text x="38.20" y="649.10" font-size="9.0" text-anchor="end" fill="#1e1e1e" textLength="4.28" lengthAdjust="spacingAndGlyphs">0</text>
<line x1="41.80" y1="628.00" x2="44.80" y2="628.00" stroke="#222" stroke-width="1.0"/>
<text x="38.20" y="631.40" font-size="9.0" text-anchor="end" fill="#1e1e1e" textLength="8.56" lengthAdjust="spacingAndGlyphs">20</text>
<line x1="41.80" y1="610.30" x2="44.80" y2="610.30" stroke="#222" stroke-width="1.0"/>
<text x="38.20" y="613.70" font-size="9.0" text-anchor="end" fill="#1e1e1e" textLength="8.56" lengthAdjust="spacingAndGlyphs">40</text>
<line x1="41.80" y1="592.60" x2="44.80" y2="592.60" stroke="#222" stroke-width="1.0"/>
<text x="38.20" y="596.00" font-size="9.0" text-anchor="end" fill="#1e1e1e" textLength="8.56" lengthAdjust="spacingAndGlyphs">60</text>
<line x1="41.80" y1="574.90" x2="44.80" y2="574.90" stroke="#222" stroke-width="1.0"/>
<text x="38.20" y="578.30" font-size="9.0" text-anchor="end" fill="#1e1e1e" textLength="8.56" lengthAdjust="spacingAndGlyphs">80</text>
<line x1="41.80" y1="557.20" x2="44.80" y2="557.20" stroke="#222" stroke-width="1.0"/>
<text x="38.20" y="560.60" font-size="9.0" text-anchor="end" fill="#1e1e1e" textLength="12.84" lengthAdjust="spacingAndGlyphs">100</text>
<line x1="55.10" y1="654.40" x2="55.10" y2="657.40" stroke="#222" stroke-width="1.0"/>
<text x="55.10" y="668.70" font-size="9.0" text-anchor="middle" fill="#1e1e1e" textLength="4.28" lengthAdjust="spacingAndGlyphs">2</text>
<line x1="76.80" y1="654.40" x2="76.80" y2="657.40" stroke="#222" stroke-width="1.0"/>
<text x="76.80" y="668.70" font-size="9.0" text-anchor="middle" fill="#1e1e1e" textLength="4.28" lengthAdjust="spacingAndGlyphs">4</text>
<line x1="98.50" y1="654.40" x2="98.50" y2="657.40" stroke="#222" stroke-width="1.0"/>
<text x="98.50" y="668.70" font-size="9.0" text-anchor="middle" fill="#1e1e1e" textLength="4.28" lengthAdjust="spacingAndGlyphs">6</text>
<line x1="120.20" y1="654.40" x2="120.20" y2="657.40" stroke="#222" stroke-width="1.0"/>
<text x="120.20" y="668.70" font-size="9.0" text-anchor="middle" fill="#1e1e1e" textLength="4.28" lengthAdjust="spacingAndGlyphs">8</text>
<line x1="141.90" y1="654.40" x2="141.90" y2="657.40" stroke="#222" stroke-width="1.0"/>
<text x="141.90" y="668.70" font-size="9.0" text-anchor="middle" fill="#1e1e1e" textLength="8.56" lengthAdjust="spacingAndGlyphs">10</text>
<text x="94.25" y="682.00" font-size="10.2" text-anchor="middle" fill="#1e1e1e" textLength="43.5" lengthAdjust="spacingAndGlyphs">Time (min)</text>
<text x="95.00" y="549.60" font-size="9" text-anchor="middle" fill="#1e1e1e" font-weight="bold">PSI C1</text>
<line x1="183.10" y1="554.40" x2="183.10" y2="655.00" stroke="#33287E" stroke-width="1.2"/>
<line x1="182.50" y1="654.40" x2="282.30" y2="654.40" stroke="#222" stroke-width="1.2"/>
<line x1="180.10" y1="645.70" x2="183.10" y2="645.70" stroke="#222" stroke-width="1.0"/>
<text x="176.50" y="649.10" font-size="9.0" text-anchor="end" fill="#1e1e1e" textLength="4.28" lengthAdjust="spacingAndGlyphs">0</text>
<line x1="180.10" y1="628.00" x2="183.10" y2="628.00" stroke="#222" stroke-width="1.0"/>
<text x="176.50" y="631.40" font-size="9.0" text-anchor="end" fill="#1e1e1e" textLength="8.56" lengthAdjust="spacingAndGlyphs">20</text>
<line x1="180.10" y1="610.30" x2="183.10" y2="610.30" stroke="#222" stroke-width="1.0"/>
<text x="176.50" y="613.70" font-size="9.0" text-anchor="end" fill="#1e1e1e" textLength="8.56" lengthAdjust="spacingAndGlyphs">40</text>
<line x1="180.10" y1="592.60" x2="183.10" y2="592.60" stroke="#222" stroke-width="1.0"/>
<text x="176.50" y="596.00" font-size="9.0" text-anchor="end" fill="#1e1e1e" textLength="8.56" lengthAdjust="spacingAndGlyphs">60</text>
<line x1="180.10" y1="574.90" x2="183.10" y2="574.90" stroke="#222" stroke-width="1.0"/>
<text x="176.50" y="578.30" font-size="9.0" text-anchor="end" fill="#1e1e1e" textLength="8.56" lengthAdjust="spacingAndGlyphs">80</text>
<line x1="180.10" y1="557.20" x2="183.10" y2="557.20" stroke="#222" stroke-width="1.0"/>
<text x="176.50" y="560.60" font-size="9.0" text-anchor="end" fill="#1e1e1e" textLength="12.84" lengthAdjust="spacingAndGlyphs">100</text>
<line x1="193.80" y1="654.40" x2="193.80" y2="657.40" stroke="#222" stroke-width="1.0"/>
<text x="193.80" y="668.70" font-size="9.0" text-anchor="middle" fill="#1e1e1e" textLength="4.28" lengthAdjust="spacingAndGlyphs">2</text>
<line x1="215.40" y1="654.40" x2="215.40" y2="657.40" stroke="#222" stroke-width="1.0"/>
<text x="215.40" y="668.70" font-size="9.0" text-anchor="middle" fill="#1e1e1e" textLength="4.28" lengthAdjust="spacingAndGlyphs">4</text>
<line x1="237.00" y1="654.40" x2="237.00" y2="657.40" stroke="#222" stroke-width="1.0"/>
<text x="237.00" y="668.70" font-size="9.0" text-anchor="middle" fill="#1e1e1e" textLength="4.28" lengthAdjust="spacingAndGlyphs">6</text>
<line x1="258.60" y1="654.40" x2="258.60" y2="657.40" stroke="#222" stroke-width="1.0"/>
<text x="258.60" y="668.70" font-size="9.0" text-anchor="middle" fill="#1e1e1e" textLength="4.28" lengthAdjust="spacingAndGlyphs">8</text>
<line x1="280.20" y1="654.40" x2="280.20" y2="657.40" stroke="#222" stroke-width="1.0"/>
<text x="280.20" y="668.70" font-size="9.0" text-anchor="middle" fill="#1e1e1e" textLength="8.56" lengthAdjust="spacingAndGlyphs">10</text>
<text x="232.70" y="682.00" font-size="10.2" text-anchor="middle" fill="#1e1e1e" textLength="43.5" lengthAdjust="spacingAndGlyphs">Time (min)</text>
<text x="233.00" y="549.60" font-size="9" text-anchor="middle" fill="#1e1e1e" font-weight="bold">PSI E1</text>
<line x1="44.80" y1="485.00" x2="44.80" y2="494.50" stroke="#222" stroke-width="1.2"/>
<path d="M44.80,488.10 L52.30,488.10" fill="none" stroke="#222" stroke-width="1.3" stroke-linejoin="round" stroke-linecap="round" opacity="1"/>
<path d="M52.30,488.10 C52.78,488.67 54.05,491.95 55.20,491.50 C56.35,491.05 57.90,487.07 59.20,485.40 C60.50,483.73 61.70,482.47 63.00,481.50 C64.30,480.53 65.50,480.12 67.00,479.60 C68.50,479.08 69.83,478.78 72.00,478.40 C74.17,478.02 76.67,477.65 80.00,477.30 C83.33,476.95 88.08,476.57 92.00,476.30 C95.92,476.03 98.83,475.87 103.50,475.70 C108.17,475.53 113.55,475.42 120.00,475.30 C126.45,475.18 138.50,475.05 142.20,475.00" fill="none" stroke="#BC3B22" stroke-width="1.7" stroke-linejoin="round" stroke-linecap="round" opacity="1"/>
<path d="M52.30,488.10 C52.78,488.67 54.05,491.95 55.20,491.50 C56.35,491.05 57.50,487.45 59.20,485.40 C60.90,483.35 63.22,481.00 65.40,479.20 C67.58,477.40 69.87,476.07 72.30,474.60 C74.73,473.13 76.72,471.83 80.00,470.40 C83.28,468.97 88.08,467.10 92.00,466.00 C95.92,464.90 98.83,464.40 103.50,463.80 C108.17,463.20 113.55,462.78 120.00,462.40 C126.45,462.02 138.50,461.65 142.20,461.50" fill="none" stroke="#33287E" stroke-width="1.7" stroke-linejoin="round" stroke-linecap="round" opacity="1"/>
<path d="M55.20,491.50 C55.42,489.58 55.95,484.08 56.50,480.00 C57.05,475.92 57.78,470.92 58.50,467.00 C59.22,463.08 59.78,459.67 60.80,456.50 C61.82,453.33 62.93,450.37 64.60,448.00 C66.27,445.63 69.00,443.63 70.80,442.30 C72.60,440.97 72.78,441.63 75.40,440.00 C78.02,438.37 83.23,434.42 86.50,432.50 C89.77,430.58 92.17,429.52 95.00,428.50 C97.83,427.48 98.57,426.90 103.50,426.40 C108.43,425.90 118.08,425.57 124.60,425.50 C131.12,425.43 139.60,425.92 142.60,426.00" fill="none" stroke="#D6982A" stroke-width="2.0" stroke-linejoin="round" stroke-linecap="round" opacity="1"/>
<line x1="50.80" y1="470.80" x2="50.80" y2="481.50" stroke="#24452a" stroke-width="1.1"/>
<path d="M48.80,480.00 L52.80,480.00 L50.80,484.00 Z" fill="#24452a"/>
<text x="53.20" y="459.60" font-size="7.5" text-anchor="middle" fill="#1e1e1e" transform="rotate(-90 53.20 459.60)">ADP</text>
<line x1="183.10" y1="416.40" x2="183.10" y2="488.00" stroke="#b03a2a" stroke-width="1.6"/>
<path d="M183.10,487.70 L192.40,487.70" fill="none" stroke="#D6982A" stroke-width="1.6" stroke-linejoin="round" stroke-linecap="round" opacity="1"/>
<path d="M193.20,494.05 L193.28,492.65 L193.37,491.05 L193.46,489.60 L193.55,487.89 L193.65,486.24 L193.75,484.11 L193.85,482.52 L193.95,481.00 L194.04,479.33 L194.11,477.90 L194.18,475.99 L194.26,474.07 L194.33,472.31 L194.40,470.78 L194.49,469.19 L194.59,467.43 L194.75,465.74 L195.00,463.91 L195.42,462.14 L195.91,460.42 L196.62,458.51 L197.45,457.42 L198.29,455.63 L199.23,455.79 L200.27,454.48 L201.01,454.05 L201.78,455.45 L202.59,454.08 L203.32,453.90 L204.30,455.05 L205.30,454.64 L206.36,453.42 L207.11,454.53 L207.92,453.68 L208.78,453.87 L209.70,452.97 L210.61,454.25 L211.52,453.76 L212.45,454.23 L213.41,454.08 L214.45,453.01 L215.19,453.14 L215.97,452.82 L216.81,452.83 L217.72,452.75 L218.69,453.27 L219.74,453.92 L220.58,452.94 L221.47,454.27 L222.42,453.80 L223.42,453.90 L224.47,454.98 L225.19,454.49 L225.93,454.32 L226.68,454.74 L227.45,455.28 L228.22,454.25 L229.01,456.04 L229.81,454.47 L230.61,455.92 L231.41,456.23 L232.22,454.89 L233.03,456.42 L233.84,455.80 L234.64,456.32 L235.44,455.44 L236.24,455.64 L237.03,456.02 L237.81,457.54 L238.57,456.30 L239.33,457.43 L240.07,457.86 L240.79,457.99 L241.50,457.02 L242.30,457.15 L243.10,457.57 L243.88,458.12 L244.65,457.02 L245.42,458.28 L246.17,458.46 L246.92,458.66 L247.67,457.27 L248.40,458.99 L249.14,457.54 L249.87,458.07 L250.60,458.64 L251.34,459.28 L252.07,458.32 L252.80,459.45 L253.53,458.85 L254.27,458.51 L255.01,458.60 L255.76,458.43 L256.51,458.34 L257.27,458.55 L258.04,459.61 L258.82,460.25 L259.60,458.84 L260.36,458.73 L261.10,460.51 L261.87,459.79 L262.67,459.65 L263.48,459.45 L264.32,460.19 L265.16,460.71 L266.02,460.15 L266.89,460.19 L267.77,459.64 L268.64,461.29 L269.51,459.81 L270.38,460.75 L271.24,461.47 L272.09,460.30 L272.93,461.48 L273.74,461.98 L274.54,461.50 L275.31,461.87 L276.05,460.74 L276.76,461.42 L277.76,461.02 L278.68,462.39 L279.49,461.50 L280.20,461.87" fill="none" stroke="#BC3B22" stroke-width="2.1" stroke-linejoin="round" stroke-linecap="round"/>
<path d="M193.20,494.00 C193.42,491.67 194.03,485.00 194.50,480.00 C194.97,475.00 195.22,467.18 196.00,464.00 C196.78,460.82 197.87,462.23 199.20,460.90 C200.53,459.57 202.25,457.23 204.00,456.00 C205.75,454.77 206.98,454.80 209.70,453.50 C212.42,452.20 215.72,449.68 220.30,448.20 C224.88,446.72 231.92,445.10 237.20,444.60 C242.48,444.10 244.77,445.03 252.00,445.20 C259.23,445.37 275.83,445.53 280.60,445.60" fill="none" stroke="#33287E" stroke-width="1.7" stroke-linejoin="round" stroke-linecap="round" opacity="1"/>
<path d="M194.50,494.00 C194.92,492.17 196.22,486.93 197.00,483.00 C197.78,479.07 198.37,474.07 199.20,470.40 C200.03,466.73 201.13,463.82 202.00,461.00 C202.87,458.18 203.28,456.17 204.40,453.50 C205.52,450.83 207.10,447.08 208.70,445.00 C210.30,442.92 212.07,442.23 214.00,441.00 C215.93,439.77 215.72,439.58 220.30,437.60 C224.88,435.62 234.45,431.03 241.50,429.10 C248.55,427.17 256.08,426.42 262.60,426.00 C269.12,425.58 277.60,426.50 280.60,426.60" fill="none" stroke="#D6982A" stroke-width="2.0" stroke-linejoin="round" stroke-linecap="round" opacity="1"/>
<path d="M183.10,489.20 L192.60,489.20 L192.60,494.20" fill="none" stroke="#222" stroke-width="1.1" stroke-linejoin="round" stroke-linecap="round" opacity="1"/>
<line x1="188.90" y1="471.00" x2="188.90" y2="481.50" stroke="#222" stroke-width="1.1"/>
<path d="M186.90,480.00 L190.90,480.00 L188.90,484.00 Z" fill="#222"/>
<text x="191.30" y="459.60" font-size="7.5" text-anchor="middle" fill="#1e1e1e" transform="rotate(-90 191.30 459.60)">ADP</text>
<line x1="44.80" y1="645.00" x2="44.80" y2="654.50" stroke="#222" stroke-width="1.2"/>
<path d="M44.80,648.40 C45.67,648.33 48.63,647.98 50.00,648.00 C51.37,648.02 52.17,649.45 53.00,648.50 C53.83,647.55 54.28,645.63 55.00,642.30 C55.72,638.97 56.33,633.12 57.30,628.50 C58.27,623.88 59.45,618.35 60.80,614.60 C62.15,610.85 63.10,608.50 65.40,606.00 C67.70,603.50 72.10,601.43 74.60,599.60 C77.10,597.77 78.08,596.63 80.40,595.00 C82.72,593.37 85.23,591.05 88.50,589.80 C91.77,588.55 95.75,588.10 100.00,587.50 C104.25,586.90 106.90,586.38 114.00,586.20 C121.10,586.02 137.83,586.37 142.60,586.40" fill="none" stroke="#D6982A" stroke-width="2.0" stroke-linejoin="round" stroke-linecap="round" opacity="1"/>
<path d="M44.80,648.60 C45.08,648.75 45.97,649.20 46.50,649.50 C47.03,649.80 47.42,650.55 48.00,650.40 C48.58,650.25 49.33,649.07 50.00,648.60 C50.67,648.13 51.17,648.20 52.00,647.60 C52.83,647.00 54.12,645.88 55.00,645.00 C55.88,644.12 55.97,642.93 57.30,642.30 C58.63,641.67 59.22,641.37 63.00,641.20 C66.78,641.03 66.73,641.23 80.00,641.30 C93.27,641.37 132.17,641.55 142.60,641.60" fill="none" stroke="#BC3B22" stroke-width="1.7" stroke-linejoin="round" stroke-linecap="round" opacity="1"/>
<path d="M44.80,648.40 C45.67,648.40 48.77,648.37 50.00,648.40 C51.23,648.43 51.57,647.88 52.20,648.60 C52.83,649.32 52.75,653.17 53.80,652.70 C54.85,652.23 56.97,648.12 58.50,645.80 C60.03,643.48 61.08,641.10 63.00,638.80 C64.92,636.50 67.10,634.10 70.00,632.00 C72.90,629.90 76.73,627.75 80.40,626.20 C84.07,624.65 88.73,623.48 92.00,622.70 C95.27,621.92 95.33,621.92 100.00,621.50 C104.67,621.08 112.90,620.55 120.00,620.20 C127.10,619.85 138.83,619.53 142.60,619.40" fill="none" stroke="#33287E" stroke-width="1.7" stroke-linejoin="round" stroke-linecap="round" opacity="1"/>
<path d="M44.80,649.80 L53.50,649.80 L53.50,654.40" fill="none" stroke="#222" stroke-width="1.1" stroke-linejoin="round" stroke-linecap="round" opacity="1"/>
<line x1="50.40" y1="629.00" x2="50.40" y2="639.50" stroke="#222" stroke-width="1.1"/>
<path d="M48.40,638.00 L52.40,638.00 L50.40,642.00 Z" fill="#222"/>
<text x="53.00" y="617.30" font-size="7.5" text-anchor="middle" fill="#1e1e1e" transform="rotate(-90 53.00 617.30)">ADP</text>
<line x1="183.10" y1="645.00" x2="183.10" y2="654.50" stroke="#222" stroke-width="1.2"/>
<path d="M183.10,646.90 L191.00,646.90" fill="none" stroke="#33287E" stroke-width="1.6" stroke-linejoin="round" stroke-linecap="round" opacity="1"/>
<path d="M185.40,646.90 L185.40,641.50 L186.00,646.90" fill="none" stroke="#BC3B22" stroke-width="1.3" stroke-linejoin="round" stroke-linecap="round" opacity="1"/>
<path d="M191.50,646.60 C191.88,646.47 193.02,648.82 193.80,645.80 C194.58,642.78 195.23,633.88 196.20,628.50 C197.17,623.12 198.27,617.45 199.60,613.50 C200.93,609.55 202.27,606.92 204.20,604.80 C206.13,602.68 208.50,602.53 211.20,600.80 C213.90,599.07 217.33,596.33 220.40,594.40 C223.47,592.47 226.33,590.45 229.60,589.20 C232.87,587.95 236.27,587.50 240.00,586.90 C243.73,586.30 245.23,585.83 252.00,585.60 C258.77,585.37 275.83,585.52 280.60,585.50" fill="none" stroke="#D6982A" stroke-width="2.0" stroke-linejoin="round" stroke-linecap="round" opacity="1"/>
<path d="M186.90,646.20 C187.67,644.78 189.77,640.08 191.50,637.70 C193.23,635.32 194.98,633.63 197.30,631.90 C199.62,630.17 202.52,628.45 205.40,627.30 C208.28,626.15 211.13,625.48 214.60,625.00 C218.07,624.52 221.97,624.50 226.20,624.40 C230.43,624.30 230.93,624.22 240.00,624.40 C249.07,624.58 273.83,625.32 280.60,625.50" fill="none" stroke="#BC3B22" stroke-width="1.7" stroke-linejoin="round" stroke-linecap="round" opacity="1"/>
<path d="M190.00,646.60 C190.35,647.03 190.88,649.82 192.10,649.20 C193.32,648.58 195.47,645.40 197.30,642.90 C199.13,640.40 200.98,636.80 203.10,634.20 C205.22,631.60 207.50,629.32 210.00,627.30 C212.50,625.28 215.02,623.53 218.10,622.10 C221.18,620.67 224.85,619.60 228.50,618.70 C232.15,617.80 234.75,617.32 240.00,616.70 C245.25,616.08 253.23,615.43 260.00,615.00 C266.77,614.57 277.17,614.25 280.60,614.10" fill="none" stroke="#33287E" stroke-width="1.7" stroke-linejoin="round" stroke-linecap="round" opacity="1"/>
<line x1="190.30" y1="624.50" x2="190.30" y2="635.00" stroke="#222" stroke-width="1.1"/>
<path d="M188.30,633.50 L192.30,633.50 L190.30,637.50 Z" fill="#222"/>
<text x="193.00" y="613.50" font-size="7.5" text-anchor="middle" fill="#1e1e1e" transform="rotate(-90 193.00 613.50)">ADP</text>
<line x1="335.80" y1="394.50" x2="335.80" y2="494.90" stroke="#222" stroke-width="1.2"/>
<line x1="335.20" y1="494.30" x2="482.50" y2="494.30" stroke="#222" stroke-width="1.2"/>
<line x1="332.80" y1="494.30" x2="335.80" y2="494.30" stroke="#222" stroke-width="1.0"/>
<text x="329.20" y="497.70" font-size="9.0" text-anchor="end" fill="#1e1e1e" textLength="4.28" lengthAdjust="spacingAndGlyphs">0</text>
<line x1="332.80" y1="474.84" x2="335.80" y2="474.84" stroke="#222" stroke-width="1.0"/>
<text x="329.20" y="478.24" font-size="9.0" text-anchor="end" fill="#1e1e1e" textLength="8.56" lengthAdjust="spacingAndGlyphs">20</text>
<line x1="332.80" y1="455.38" x2="335.80" y2="455.38" stroke="#222" stroke-width="1.0"/>
<text x="329.20" y="458.78" font-size="9.0" text-anchor="end" fill="#1e1e1e" textLength="8.56" lengthAdjust="spacingAndGlyphs">40</text>
<line x1="332.80" y1="435.92" x2="335.80" y2="435.92" stroke="#222" stroke-width="1.0"/>
<text x="329.20" y="439.32" font-size="9.0" text-anchor="end" fill="#1e1e1e" textLength="8.56" lengthAdjust="spacingAndGlyphs">60</text>
<line x1="332.80" y1="416.46" x2="335.80" y2="416.46" stroke="#222" stroke-width="1.0"/>
<text x="329.20" y="419.86" font-size="9.0" text-anchor="end" fill="#1e1e1e" textLength="8.56" lengthAdjust="spacingAndGlyphs">80</text>
<line x1="332.80" y1="397.00" x2="335.80" y2="397.00" stroke="#222" stroke-width="1.0"/>
<text x="329.20" y="400.40" font-size="9.0" text-anchor="end" fill="#1e1e1e" textLength="12.84" lengthAdjust="spacingAndGlyphs">100</text>
<text x="310.20" y="444.00" font-size="9.9" text-anchor="middle" fill="#1e1e1e" transform="rotate(-90 310.20 444.00)" textLength="91.5" lengthAdjust="spacingAndGlyphs">Light transmission (%)</text>
<rect x="341.00" y="424.25" width="19.00" height="70.05" fill="#DB8E18"/>
<line x1="350.50" y1="424.25" x2="350.50" y2="422.50" stroke="#222" stroke-width="1.1"/>
<line x1="346.00" y1="422.50" x2="355.00" y2="422.50" stroke="#222" stroke-width="1.1"/>
<line x1="350.50" y1="494.30" x2="350.50" y2="497.30" stroke="#222" stroke-width="1.0"/>
<text x="354.30" y="505.30" font-size="8.5" text-anchor="end" fill="#1e1e1e" transform="rotate(-45 354.30 505.30)">Control</text>
<rect x="370.00" y="482.00" width="20.00" height="12.30" fill="#CB3A1B"/>
<line x1="380.00" y1="482.00" x2="380.00" y2="475.50" stroke="#222" stroke-width="1.1"/>
<line x1="375.50" y1="475.50" x2="384.50" y2="475.50" stroke="#222" stroke-width="1.1"/>
<text x="380.30" y="476.60" font-size="10" text-anchor="middle" fill="#222" style="stroke:#222;stroke-width:0.15px" letter-spacing="0.3">***</text>
<line x1="380.00" y1="494.30" x2="380.00" y2="497.30" stroke="#222" stroke-width="1.0"/>
<text x="383.80" y="505.30" font-size="8.5" text-anchor="end" fill="#1e1e1e" transform="rotate(-45 383.80 505.30)">PSI A1</text>
<rect x="399.50" y="451.25" width="19.50" height="43.05" fill="#66A640"/>
<line x1="409.25" y1="451.25" x2="409.25" y2="438.00" stroke="#222" stroke-width="1.1"/>
<line x1="404.75" y1="438.00" x2="413.75" y2="438.00" stroke="#222" stroke-width="1.1"/>
<text x="409.55" y="439.10" font-size="10" text-anchor="middle" fill="#222" style="stroke:#222;stroke-width:0.15px" letter-spacing="0.3">*</text>
<line x1="409.25" y1="494.30" x2="409.25" y2="497.30" stroke="#222" stroke-width="1.0"/>
<text x="413.05" y="505.30" font-size="8.5" text-anchor="end" fill="#1e1e1e" transform="rotate(-45 413.05 505.30)">PSI B1</text>
<rect x="428.75" y="481.25" width="19.25" height="13.05" fill="#33287E"/>
<line x1="438.38" y1="481.25" x2="438.38" y2="476.25" stroke="#222" stroke-width="1.1"/>
<line x1="433.88" y1="476.25" x2="442.88" y2="476.25" stroke="#222" stroke-width="1.1"/>
<text x="438.68" y="477.60" font-size="10" text-anchor="middle" fill="#222" style="stroke:#222;stroke-width:0.15px" letter-spacing="0.3">***</text>
<line x1="438.38" y1="494.30" x2="438.38" y2="497.30" stroke="#222" stroke-width="1.0"/>
<text x="442.18" y="505.30" font-size="8.5" text-anchor="end" fill="#1e1e1e" transform="rotate(-45 442.18 505.30)">PSI C1</text>
<rect x="457.50" y="465.50" width="19.50" height="28.80" fill="#8E3D92"/>
<line x1="467.25" y1="465.50" x2="467.25" y2="456.25" stroke="#222" stroke-width="1.1"/>
<line x1="462.75" y1="456.25" x2="471.75" y2="456.25" stroke="#222" stroke-width="1.1"/>
<text x="467.55" y="457.10" font-size="10" text-anchor="middle" fill="#222" style="stroke:#222;stroke-width:0.15px" letter-spacing="0.3">**</text>
<line x1="467.25" y1="494.30" x2="467.25" y2="497.30" stroke="#222" stroke-width="1.0"/>
<text x="471.05" y="505.30" font-size="8.5" text-anchor="end" fill="#1e1e1e" transform="rotate(-45 471.05 505.30)">PSI E1</text>
<line x1="301.00" y1="600.50" x2="314.00" y2="600.50" stroke="#D6982A" stroke-width="1.4"/>
<text x="317.00" y="603.40" font-size="8" text-anchor="start" fill="#1e1e1e">Control</text>
<line x1="301.00" y1="612.50" x2="314.00" y2="612.50" stroke="#33287E" stroke-width="1.4"/>
<text x="317.00" y="615.40" font-size="8" text-anchor="start" fill="#1e1e1e">+ 20 μg/mL</text>
<line x1="301.00" y1="625.00" x2="314.00" y2="625.00" stroke="#BC3B22" stroke-width="1.4"/>
<text x="317.00" y="627.90" font-size="8" text-anchor="start" fill="#1e1e1e">+ 40 μg/mL</text>
<text x="-1.00" y="714.50" font-size="11.5" text-anchor="start" fill="#1e1e1e" font-weight="bold">C</text>
<text x="11.60" y="727.40" font-size="9.4" text-anchor="start" fill="#1e1e1e" font-weight="bold" textLength="57.8" lengthAdjust="spacingAndGlyphs">Human PRP</text>
<line x1="43.60" y1="737.20" x2="43.60" y2="843.00" stroke="#222" stroke-width="1.2"/>
<line x1="43.00" y1="842.40" x2="155.50" y2="842.40" stroke="#222" stroke-width="1.2"/>
<line x1="40.60" y1="836.80" x2="43.60" y2="836.80" stroke="#222" stroke-width="1.0"/>
<text x="37.00" y="840.20" font-size="9.0" text-anchor="end" fill="#1e1e1e" textLength="4.28" lengthAdjust="spacingAndGlyphs">0</text>
<line x1="40.60" y1="817.44" x2="43.60" y2="817.44" stroke="#222" stroke-width="1.0"/>
<text x="37.00" y="820.84" font-size="9.0" text-anchor="end" fill="#1e1e1e" textLength="8.56" lengthAdjust="spacingAndGlyphs">20</text>
<line x1="40.60" y1="798.08" x2="43.60" y2="798.08" stroke="#222" stroke-width="1.0"/>
<text x="37.00" y="801.48" font-size="9.0" text-anchor="end" fill="#1e1e1e" textLength="8.56" lengthAdjust="spacingAndGlyphs">40</text>
<line x1="40.60" y1="778.72" x2="43.60" y2="778.72" stroke="#222" stroke-width="1.0"/>
<text x="37.00" y="782.12" font-size="9.0" text-anchor="end" fill="#1e1e1e" textLength="8.56" lengthAdjust="spacingAndGlyphs">60</text>
<line x1="40.60" y1="759.36" x2="43.60" y2="759.36" stroke="#222" stroke-width="1.0"/>
<text x="37.00" y="762.76" font-size="9.0" text-anchor="end" fill="#1e1e1e" textLength="8.56" lengthAdjust="spacingAndGlyphs">80</text>
<line x1="40.60" y1="740.00" x2="43.60" y2="740.00" stroke="#222" stroke-width="1.0"/>
<text x="37.00" y="743.40" font-size="9.0" text-anchor="end" fill="#1e1e1e" textLength="12.84" lengthAdjust="spacingAndGlyphs">100</text>
<line x1="65.40" y1="842.40" x2="65.40" y2="845.40" stroke="#222" stroke-width="1.0"/>
<text x="65.40" y="856.70" font-size="9.0" text-anchor="middle" fill="#1e1e1e" textLength="4.28" lengthAdjust="spacingAndGlyphs">2</text>
<line x1="87.65" y1="842.40" x2="87.65" y2="845.40" stroke="#222" stroke-width="1.0"/>
<text x="87.65" y="856.70" font-size="9.0" text-anchor="middle" fill="#1e1e1e" textLength="4.28" lengthAdjust="spacingAndGlyphs">4</text>
<line x1="109.90" y1="842.40" x2="109.90" y2="845.40" stroke="#222" stroke-width="1.0"/>
<text x="109.90" y="856.70" font-size="9.0" text-anchor="middle" fill="#1e1e1e" textLength="4.28" lengthAdjust="spacingAndGlyphs">6</text>
<line x1="132.15" y1="842.40" x2="132.15" y2="845.40" stroke="#222" stroke-width="1.0"/>
<text x="132.15" y="856.70" font-size="9.0" text-anchor="middle" fill="#1e1e1e" textLength="4.28" lengthAdjust="spacingAndGlyphs">8</text>
<line x1="154.40" y1="842.40" x2="154.40" y2="845.40" stroke="#222" stroke-width="1.0"/>
<text x="154.40" y="856.70" font-size="9.0" text-anchor="middle" fill="#1e1e1e" textLength="8.56" lengthAdjust="spacingAndGlyphs">10</text>
<text x="99.55" y="870.00" font-size="10.2" text-anchor="middle" fill="#1e1e1e" textLength="43.5" lengthAdjust="spacingAndGlyphs">Time (min)</text>
<text x="16.60" y="786.80" font-size="9.9" text-anchor="middle" fill="#1e1e1e" transform="rotate(-90 16.60 786.80)" textLength="91.5" lengthAdjust="spacingAndGlyphs">Light transmission (%)</text>
<line x1="210.00" y1="736.50" x2="210.00" y2="843.00" stroke="#222" stroke-width="1.2"/>
<line x1="209.40" y1="842.40" x2="323.00" y2="842.40" stroke="#222" stroke-width="1.2"/>
<line x1="207.00" y1="842.40" x2="210.00" y2="842.40" stroke="#222" stroke-width="1.0"/>
<text x="203.40" y="845.80" font-size="9.0" text-anchor="end" fill="#1e1e1e" textLength="4.28" lengthAdjust="spacingAndGlyphs">0</text>
<line x1="207.00" y1="821.78" x2="210.00" y2="821.78" stroke="#222" stroke-width="1.0"/>
<text x="203.40" y="825.18" font-size="9.0" text-anchor="end" fill="#1e1e1e" textLength="8.56" lengthAdjust="spacingAndGlyphs">20</text>
<line x1="207.00" y1="801.16" x2="210.00" y2="801.16" stroke="#222" stroke-width="1.0"/>
<text x="203.40" y="804.56" font-size="9.0" text-anchor="end" fill="#1e1e1e" textLength="8.56" lengthAdjust="spacingAndGlyphs">40</text>
<line x1="207.00" y1="780.54" x2="210.00" y2="780.54" stroke="#222" stroke-width="1.0"/>
<text x="203.40" y="783.94" font-size="9.0" text-anchor="end" fill="#1e1e1e" textLength="8.56" lengthAdjust="spacingAndGlyphs">60</text>
<line x1="207.00" y1="759.92" x2="210.00" y2="759.92" stroke="#222" stroke-width="1.0"/>
<text x="203.40" y="763.32" font-size="9.0" text-anchor="end" fill="#1e1e1e" textLength="8.56" lengthAdjust="spacingAndGlyphs">80</text>
<line x1="207.00" y1="739.30" x2="210.00" y2="739.30" stroke="#222" stroke-width="1.0"/>
<text x="203.40" y="742.70" font-size="9.0" text-anchor="end" fill="#1e1e1e" textLength="12.84" lengthAdjust="spacingAndGlyphs">100</text>
<line x1="232.20" y1="842.40" x2="232.20" y2="845.40" stroke="#222" stroke-width="1.0"/>
<text x="232.20" y="856.70" font-size="9.0" text-anchor="middle" fill="#1e1e1e" textLength="4.28" lengthAdjust="spacingAndGlyphs">2</text>
<line x1="254.30" y1="842.40" x2="254.30" y2="845.40" stroke="#222" stroke-width="1.0"/>
<text x="254.30" y="856.70" font-size="9.0" text-anchor="middle" fill="#1e1e1e" textLength="4.28" lengthAdjust="spacingAndGlyphs">4</text>
<line x1="276.40" y1="842.40" x2="276.40" y2="845.40" stroke="#222" stroke-width="1.0"/>
<text x="276.40" y="856.70" font-size="9.0" text-anchor="middle" fill="#1e1e1e" textLength="4.28" lengthAdjust="spacingAndGlyphs">6</text>
<line x1="298.50" y1="842.40" x2="298.50" y2="845.40" stroke="#222" stroke-width="1.0"/>
<text x="298.50" y="856.70" font-size="9.0" text-anchor="middle" fill="#1e1e1e" textLength="4.28" lengthAdjust="spacingAndGlyphs">8</text>
<line x1="320.60" y1="842.40" x2="320.60" y2="845.40" stroke="#222" stroke-width="1.0"/>
<text x="320.60" y="856.70" font-size="9.0" text-anchor="middle" fill="#1e1e1e" textLength="8.56" lengthAdjust="spacingAndGlyphs">10</text>
<text x="266.50" y="870.00" font-size="10.2" text-anchor="middle" fill="#1e1e1e" textLength="43.5" lengthAdjust="spacingAndGlyphs">Time (min)</text>
<text x="183.90" y="786.80" font-size="9.9" text-anchor="middle" fill="#1e1e1e" transform="rotate(-90 183.90 786.80)" textLength="91.5" lengthAdjust="spacingAndGlyphs">Light transmission (%)</text>
<line x1="43.60" y1="768.50" x2="43.60" y2="836.50" stroke="#D6982A" stroke-width="1.6"/>
<path d="M43.60,836.50 L57.30,836.50" fill="none" stroke="#8E3D92" stroke-width="1.8" stroke-linejoin="round" stroke-linecap="round" opacity="1"/>
<path d="M57.30,836.50 C57.35,836.05 57.22,837.32 57.60,833.80 C57.98,830.28 58.68,820.00 59.60,815.40 C60.52,810.80 61.57,808.42 63.10,806.20 C64.63,803.98 66.50,803.17 68.80,802.10 C71.10,801.03 74.00,800.32 76.90,799.80 C79.80,799.28 82.35,799.18 86.20,799.00 C90.05,798.82 96.17,798.78 100.00,798.70 C103.83,798.62 106.53,798.28 109.20,798.50 C111.87,798.72 113.70,799.25 116.00,800.00 C118.30,800.75 119.50,802.30 123.00,803.00 C126.50,803.70 131.75,804.00 137.00,804.20 C142.25,804.40 151.58,804.20 154.50,804.20" fill="none" stroke="#66A640" stroke-width="1.7" stroke-linejoin="round" stroke-linecap="round" opacity="1"/>
<path d="M57.30,836.50 C57.83,835.75 59.53,833.42 60.50,832.00 C61.47,830.58 61.90,829.42 63.10,828.00 C64.30,826.58 66.35,824.45 67.70,823.50 C69.05,822.55 70.05,823.08 71.20,822.30 C72.35,821.52 72.10,820.35 74.60,818.80 C77.10,817.25 81.97,814.53 86.20,813.00 C90.43,811.47 95.40,810.30 100.00,809.60 C104.60,808.90 108.80,808.82 113.80,808.80 C118.80,808.78 123.22,809.30 130.00,809.50 C136.78,809.70 150.42,809.92 154.50,810.00" fill="none" stroke="#BC3B22" stroke-width="1.7" stroke-linejoin="round" stroke-linecap="round" opacity="1"/>
<path d="M57.30,836.50 C57.50,837.30 57.53,841.55 58.50,841.30 C59.47,841.05 61.38,837.40 63.10,835.00 C64.82,832.60 66.88,829.20 68.80,826.90 C70.72,824.60 71.70,823.32 74.60,821.20 C77.50,819.08 82.35,815.73 86.20,814.20 C90.05,812.67 93.87,812.17 97.70,812.00 C101.53,811.83 103.43,812.77 109.20,813.20 C114.97,813.63 124.75,814.17 132.30,814.60 C139.85,815.03 150.80,815.60 154.50,815.80" fill="none" stroke="#33287E" stroke-width="1.7" stroke-linejoin="round" stroke-linecap="round" opacity="1"/>
<path d="M57.30,836.50 C57.68,836.92 58.63,842.92 59.60,839.00 C60.57,835.08 61.75,818.67 63.10,813.00 C64.45,807.33 65.78,807.30 67.70,805.00 C69.62,802.70 71.52,801.32 74.60,799.20 C77.68,797.08 81.97,794.42 86.20,792.30 C90.43,790.18 96.17,787.78 100.00,786.50 C103.83,785.22 104.20,785.27 109.20,784.60 C114.20,783.93 122.45,782.97 130.00,782.50 C137.55,782.03 150.42,781.92 154.50,781.80" fill="none" stroke="#8E3D92" stroke-width="1.7" stroke-linejoin="round" stroke-linecap="round" opacity="1"/>
<path d="M60.00,837.50 C60.50,837.50 62.20,838.58 63.00,837.50 C63.80,836.42 64.30,836.25 64.80,831.00 C65.30,825.75 65.62,814.00 66.00,806.00 C66.38,798.00 66.72,788.00 67.10,783.00 C67.48,778.00 67.82,777.72 68.30,776.00 C68.78,774.28 69.22,773.70 70.00,772.70 C70.78,771.70 71.85,770.78 73.00,770.00 C74.15,769.22 74.32,768.80 76.90,768.00 C79.48,767.20 84.65,765.95 88.50,765.20 C92.35,764.45 96.55,763.92 100.00,763.50 C103.45,763.08 104.20,762.98 109.20,762.70 C114.20,762.42 122.42,762.08 130.00,761.80 C137.58,761.52 150.58,761.13 154.70,761.00" fill="none" stroke="#D6982A" stroke-width="2.0" stroke-linejoin="round" stroke-linecap="round" opacity="1"/>
<line x1="53.10" y1="815.50" x2="53.10" y2="830.50" stroke="#222" stroke-width="1.1"/>
<path d="M51.10,829.00 L55.10,829.00 L53.10,833.00 Z" fill="#222"/>
<text x="55.30" y="799.20" font-size="7.5" text-anchor="middle" fill="#1e1e1e" transform="rotate(-90 55.30 799.20)">TRAP</text>
<line x1="210.00" y1="783.50" x2="210.00" y2="840.00" stroke="#D6982A" stroke-width="1.6"/>
<path d="M210.00,840.00 L227.00,840.00" fill="none" stroke="#8E3D92" stroke-width="2.0" stroke-linejoin="round" stroke-linecap="round" opacity="1"/>
<path d="M224.20,840.00 C224.87,837.98 226.42,832.40 228.20,827.90 C229.98,823.40 232.67,816.37 234.90,813.00 C237.13,809.63 238.23,809.60 241.60,807.70 C244.97,805.80 249.03,803.17 255.10,801.60 C261.17,800.03 270.52,799.20 278.00,798.30 C285.48,797.40 292.93,796.67 300.00,796.20 C307.07,795.73 317.00,795.62 320.40,795.50" fill="none" stroke="#66A640" stroke-width="1.7" stroke-linejoin="round" stroke-linecap="round" opacity="1"/>
<path d="M229.20,840.00 C229.83,838.67 231.27,835.27 233.00,832.00 C234.73,828.73 237.60,823.40 239.60,820.40 C241.60,817.40 243.07,815.93 245.00,814.00 C246.93,812.07 248.25,810.80 251.20,808.80 C254.15,806.80 258.73,803.63 262.70,802.00 C266.67,800.37 271.15,799.87 275.00,799.00 C278.85,798.13 278.23,797.47 285.80,796.80 C293.37,796.13 314.63,795.30 320.40,795.00" fill="none" stroke="#8E3D92" stroke-width="1.7" stroke-linejoin="round" stroke-linecap="round" opacity="1"/>
<path d="M231.50,841.00 C232.08,840.50 233.65,839.13 235.00,838.00 C236.35,836.87 237.93,835.45 239.60,834.20 C241.27,832.95 243.07,831.65 245.00,830.50 C246.93,829.35 248.25,828.40 251.20,827.30 C254.15,826.20 256.93,824.95 262.70,823.90 C268.47,822.85 276.18,821.58 285.80,821.00 C295.42,820.42 314.63,820.50 320.40,820.40" fill="none" stroke="#33287E" stroke-width="1.7" stroke-linejoin="round" stroke-linecap="round" opacity="1"/>
<path d="M227.00,840.00 C227.67,839.83 230.03,841.17 231.00,839.00 C231.97,836.83 232.15,831.33 232.80,827.00 C233.45,822.67 233.65,816.90 234.90,813.00 C236.15,809.10 238.05,805.95 240.30,803.60 C242.55,801.25 244.82,800.23 248.40,798.90 C251.98,797.57 256.87,796.38 261.80,795.60 C266.73,794.82 271.63,794.50 278.00,794.20 C284.37,793.90 292.93,793.87 300.00,793.80 C307.07,793.73 317.00,793.80 320.40,793.80" fill="none" stroke="#BC3B22" stroke-width="2.0" stroke-linejoin="round" stroke-linecap="round" opacity="1"/>
<path d="M227.00,840.00 C227.75,840.00 230.58,841.33 231.50,840.00 C232.42,838.67 232.05,835.15 232.50,832.00 C232.95,828.85 233.53,824.60 234.20,821.10 C234.87,817.60 235.70,814.13 236.50,811.00 C237.30,807.87 237.92,805.43 239.00,802.30 C240.08,799.17 241.43,794.67 243.00,792.20 C244.57,789.73 246.83,788.62 248.40,787.50 C249.97,786.38 251.40,785.78 252.40,785.50 C253.40,785.22 253.72,785.62 254.40,785.80 C255.08,785.98 255.57,786.57 256.50,786.60 C257.43,786.63 258.67,786.27 260.00,786.00 C261.33,785.73 261.50,785.32 264.50,785.00 C267.50,784.68 272.08,784.32 278.00,784.10 C283.92,783.88 292.93,783.80 300.00,783.70 C307.07,783.60 317.00,783.53 320.40,783.50" fill="none" stroke="#D6982A" stroke-width="2.0" stroke-linejoin="round" stroke-linecap="round" opacity="1"/>
<line x1="219.80" y1="817.00" x2="219.80" y2="832.00" stroke="#222" stroke-width="1.1"/>
<path d="M217.80,830.50 L221.80,830.50 L219.80,834.50 Z" fill="#222"/>
<text x="221.90" y="796.50" font-size="7.9" text-anchor="middle" fill="#1e1e1e" transform="rotate(-90 221.90 796.50)">Collagen</text>
<line x1="342.00" y1="780.40" x2="354.00" y2="780.40" stroke="#D6982A" stroke-width="1.4"/>
<text x="357.70" y="783.30" font-size="8" text-anchor="start" fill="#1e1e1e">Control</text>
<line x1="342.00" y1="792.00" x2="354.00" y2="792.00" stroke="#BC3B22" stroke-width="1.4"/>
<text x="357.70" y="794.90" font-size="8" text-anchor="start" fill="#1e1e1e">PSI A1</text>
<line x1="342.00" y1="803.80" x2="354.00" y2="803.80" stroke="#66A640" stroke-width="1.4"/>
<text x="357.70" y="806.70" font-size="8" text-anchor="start" fill="#1e1e1e">PSI B1</text>
<line x1="342.00" y1="815.90" x2="354.00" y2="815.90" stroke="#33287E" stroke-width="1.4"/>
<text x="357.70" y="818.80" font-size="8" text-anchor="start" fill="#1e1e1e">PSI C1</text>
<line x1="342.00" y1="827.50" x2="354.00" y2="827.50" stroke="#8E3D92" stroke-width="1.4"/>
<text x="357.70" y="830.40" font-size="8" text-anchor="start" fill="#1e1e1e">PSI E1</text>
<text x="-0.50" y="899.80" font-size="11.5" text-anchor="start" fill="#1e1e1e" font-weight="bold">D</text>
<text x="15.90" y="911.60" font-size="9.4" text-anchor="start" fill="#1e1e1e" font-weight="bold" textLength="132.6" lengthAdjust="spacingAndGlyphs">Human gel-filtered platelets</text>
<line x1="43.40" y1="922.00" x2="43.40" y2="1028.60" stroke="#222" stroke-width="1.2"/>
<line x1="42.80" y1="1028.00" x2="155.50" y2="1028.00" stroke="#222" stroke-width="1.2"/>
<line x1="40.40" y1="1022.40" x2="43.40" y2="1022.40" stroke="#222" stroke-width="1.0"/>
<text x="36.80" y="1025.80" font-size="9.0" text-anchor="end" fill="#1e1e1e" textLength="4.28" lengthAdjust="spacingAndGlyphs">0</text>
<line x1="40.40" y1="1002.88" x2="43.40" y2="1002.88" stroke="#222" stroke-width="1.0"/>
<text x="36.80" y="1006.28" font-size="9.0" text-anchor="end" fill="#1e1e1e" textLength="8.56" lengthAdjust="spacingAndGlyphs">20</text>
<line x1="40.40" y1="983.36" x2="43.40" y2="983.36" stroke="#222" stroke-width="1.0"/>
<text x="36.80" y="986.76" font-size="9.0" text-anchor="end" fill="#1e1e1e" textLength="8.56" lengthAdjust="spacingAndGlyphs">40</text>
<line x1="40.40" y1="963.84" x2="43.40" y2="963.84" stroke="#222" stroke-width="1.0"/>
<text x="36.80" y="967.24" font-size="9.0" text-anchor="end" fill="#1e1e1e" textLength="8.56" lengthAdjust="spacingAndGlyphs">60</text>
<line x1="40.40" y1="944.32" x2="43.40" y2="944.32" stroke="#222" stroke-width="1.0"/>
<text x="36.80" y="947.72" font-size="9.0" text-anchor="end" fill="#1e1e1e" textLength="8.56" lengthAdjust="spacingAndGlyphs">80</text>
<line x1="40.40" y1="924.80" x2="43.40" y2="924.80" stroke="#222" stroke-width="1.0"/>
<text x="36.80" y="928.20" font-size="9.0" text-anchor="end" fill="#1e1e1e" textLength="12.84" lengthAdjust="spacingAndGlyphs">100</text>
<line x1="65.40" y1="1028.00" x2="65.40" y2="1031.00" stroke="#222" stroke-width="1.0"/>
<text x="65.40" y="1042.30" font-size="9.0" text-anchor="middle" fill="#1e1e1e" textLength="4.28" lengthAdjust="spacingAndGlyphs">2</text>
<line x1="87.60" y1="1028.00" x2="87.60" y2="1031.00" stroke="#222" stroke-width="1.0"/>
<text x="87.60" y="1042.30" font-size="9.0" text-anchor="middle" fill="#1e1e1e" textLength="4.28" lengthAdjust="spacingAndGlyphs">4</text>
<line x1="109.80" y1="1028.00" x2="109.80" y2="1031.00" stroke="#222" stroke-width="1.0"/>
<text x="109.80" y="1042.30" font-size="9.0" text-anchor="middle" fill="#1e1e1e" textLength="4.28" lengthAdjust="spacingAndGlyphs">6</text>
<line x1="132.00" y1="1028.00" x2="132.00" y2="1031.00" stroke="#222" stroke-width="1.0"/>
<text x="132.00" y="1042.30" font-size="9.0" text-anchor="middle" fill="#1e1e1e" textLength="4.28" lengthAdjust="spacingAndGlyphs">8</text>
<line x1="154.20" y1="1028.00" x2="154.20" y2="1031.00" stroke="#222" stroke-width="1.0"/>
<text x="154.20" y="1042.30" font-size="9.0" text-anchor="middle" fill="#1e1e1e" textLength="8.56" lengthAdjust="spacingAndGlyphs">10</text>
<text x="99.45" y="1055.60" font-size="10.2" text-anchor="middle" fill="#1e1e1e" textLength="43.5" lengthAdjust="spacingAndGlyphs">Time (min)</text>
<text x="15.50" y="972.40" font-size="9.9" text-anchor="middle" fill="#1e1e1e" transform="rotate(-90 15.50 972.40)" textLength="91.5" lengthAdjust="spacingAndGlyphs">Light transmission (%)</text>
<line x1="195.60" y1="922.40" x2="195.60" y2="1028.40" stroke="#222" stroke-width="1.2"/>
<line x1="195.00" y1="1027.80" x2="308.70" y2="1027.80" stroke="#222" stroke-width="1.2"/>
<line x1="192.60" y1="1016.80" x2="195.60" y2="1016.80" stroke="#222" stroke-width="1.0"/>
<text x="189.00" y="1020.20" font-size="9.0" text-anchor="end" fill="#1e1e1e" textLength="4.28" lengthAdjust="spacingAndGlyphs">0</text>
<line x1="192.60" y1="998.48" x2="195.60" y2="998.48" stroke="#222" stroke-width="1.0"/>
<text x="189.00" y="1001.88" font-size="9.0" text-anchor="end" fill="#1e1e1e" textLength="8.56" lengthAdjust="spacingAndGlyphs">20</text>
<line x1="192.60" y1="980.16" x2="195.60" y2="980.16" stroke="#222" stroke-width="1.0"/>
<text x="189.00" y="983.56" font-size="9.0" text-anchor="end" fill="#1e1e1e" textLength="8.56" lengthAdjust="spacingAndGlyphs">40</text>
<line x1="192.60" y1="961.84" x2="195.60" y2="961.84" stroke="#222" stroke-width="1.0"/>
<text x="189.00" y="965.24" font-size="9.0" text-anchor="end" fill="#1e1e1e" textLength="8.56" lengthAdjust="spacingAndGlyphs">60</text>
<line x1="192.60" y1="943.52" x2="195.60" y2="943.52" stroke="#222" stroke-width="1.0"/>
<text x="189.00" y="946.92" font-size="9.0" text-anchor="end" fill="#1e1e1e" textLength="8.56" lengthAdjust="spacingAndGlyphs">80</text>
<line x1="192.60" y1="925.20" x2="195.60" y2="925.20" stroke="#222" stroke-width="1.0"/>
<text x="189.00" y="928.60" font-size="9.0" text-anchor="end" fill="#1e1e1e" textLength="12.84" lengthAdjust="spacingAndGlyphs">100</text>
<line x1="217.50" y1="1027.80" x2="217.50" y2="1030.80" stroke="#222" stroke-width="1.0"/>
<text x="217.50" y="1042.10" font-size="9.0" text-anchor="middle" fill="#1e1e1e" textLength="4.28" lengthAdjust="spacingAndGlyphs">2</text>
<line x1="239.70" y1="1027.80" x2="239.70" y2="1030.80" stroke="#222" stroke-width="1.0"/>
<text x="239.70" y="1042.10" font-size="9.0" text-anchor="middle" fill="#1e1e1e" textLength="4.28" lengthAdjust="spacingAndGlyphs">4</text>
<line x1="261.90" y1="1027.80" x2="261.90" y2="1030.80" stroke="#222" stroke-width="1.0"/>
<text x="261.90" y="1042.10" font-size="9.0" text-anchor="middle" fill="#1e1e1e" textLength="4.28" lengthAdjust="spacingAndGlyphs">6</text>
<line x1="284.10" y1="1027.80" x2="284.10" y2="1030.80" stroke="#222" stroke-width="1.0"/>
<text x="284.10" y="1042.10" font-size="9.0" text-anchor="middle" fill="#1e1e1e" textLength="4.28" lengthAdjust="spacingAndGlyphs">8</text>
<line x1="306.30" y1="1027.80" x2="306.30" y2="1030.80" stroke="#222" stroke-width="1.0"/>
<text x="306.30" y="1042.10" font-size="9.0" text-anchor="middle" fill="#1e1e1e" textLength="8.56" lengthAdjust="spacingAndGlyphs">10</text>
<text x="252.15" y="1055.40" font-size="10.2" text-anchor="middle" fill="#1e1e1e" textLength="43.5" lengthAdjust="spacingAndGlyphs">Time (min)</text>
<line x1="347.60" y1="922.40" x2="347.60" y2="1028.60" stroke="#222" stroke-width="1.2"/>
<line x1="347.00" y1="1028.00" x2="460.70" y2="1028.00" stroke="#222" stroke-width="1.2"/>
<line x1="344.60" y1="1014.30" x2="347.60" y2="1014.30" stroke="#222" stroke-width="1.0"/>
<text x="341.00" y="1017.70" font-size="9.0" text-anchor="end" fill="#1e1e1e" textLength="4.28" lengthAdjust="spacingAndGlyphs">0</text>
<line x1="344.60" y1="996.48" x2="347.60" y2="996.48" stroke="#222" stroke-width="1.0"/>
<text x="341.00" y="999.88" font-size="9.0" text-anchor="end" fill="#1e1e1e" textLength="8.56" lengthAdjust="spacingAndGlyphs">20</text>
<line x1="344.60" y1="978.66" x2="347.60" y2="978.66" stroke="#222" stroke-width="1.0"/>
<text x="341.00" y="982.06" font-size="9.0" text-anchor="end" fill="#1e1e1e" textLength="8.56" lengthAdjust="spacingAndGlyphs">40</text>
<line x1="344.60" y1="960.84" x2="347.60" y2="960.84" stroke="#222" stroke-width="1.0"/>
<text x="341.00" y="964.24" font-size="9.0" text-anchor="end" fill="#1e1e1e" textLength="8.56" lengthAdjust="spacingAndGlyphs">60</text>
<line x1="344.60" y1="943.02" x2="347.60" y2="943.02" stroke="#222" stroke-width="1.0"/>
<text x="341.00" y="946.42" font-size="9.0" text-anchor="end" fill="#1e1e1e" textLength="8.56" lengthAdjust="spacingAndGlyphs">80</text>
<line x1="344.60" y1="925.20" x2="347.60" y2="925.20" stroke="#222" stroke-width="1.0"/>
<text x="341.00" y="928.60" font-size="9.0" text-anchor="end" fill="#1e1e1e" textLength="12.84" lengthAdjust="spacingAndGlyphs">100</text>
<line x1="369.30" y1="1028.00" x2="369.30" y2="1031.00" stroke="#222" stroke-width="1.0"/>
<text x="369.30" y="1042.30" font-size="9.0" text-anchor="middle" fill="#1e1e1e" textLength="4.28" lengthAdjust="spacingAndGlyphs">2</text>
<line x1="391.50" y1="1028.00" x2="391.50" y2="1031.00" stroke="#222" stroke-width="1.0"/>
<text x="391.50" y="1042.30" font-size="9.0" text-anchor="middle" fill="#1e1e1e" textLength="4.28" lengthAdjust="spacingAndGlyphs">4</text>
<line x1="413.70" y1="1028.00" x2="413.70" y2="1031.00" stroke="#222" stroke-width="1.0"/>
<text x="413.70" y="1042.30" font-size="9.0" text-anchor="middle" fill="#1e1e1e" textLength="4.28" lengthAdjust="spacingAndGlyphs">6</text>
<line x1="435.90" y1="1028.00" x2="435.90" y2="1031.00" stroke="#222" stroke-width="1.0"/>
<text x="435.90" y="1042.30" font-size="9.0" text-anchor="middle" fill="#1e1e1e" textLength="4.28" lengthAdjust="spacingAndGlyphs">8</text>
<line x1="458.10" y1="1028.00" x2="458.10" y2="1031.00" stroke="#222" stroke-width="1.0"/>
<text x="458.10" y="1042.30" font-size="9.0" text-anchor="middle" fill="#1e1e1e" textLength="8.56" lengthAdjust="spacingAndGlyphs">10</text>
<text x="404.15" y="1055.60" font-size="10.2" text-anchor="middle" fill="#1e1e1e" textLength="43.5" lengthAdjust="spacingAndGlyphs">Time (min)</text>
<line x1="43.40" y1="977.30" x2="43.40" y2="1015.90" stroke="#D6982A" stroke-width="1.6"/>
<path d="M43.40,1015.90 L63.00,1015.90" fill="none" stroke="#8E3D92" stroke-width="2.0" stroke-linejoin="round" stroke-linecap="round" opacity="1"/>
<path d="M63.00,1015.90 C63.47,1017.70 64.97,1025.93 65.80,1026.70 C66.63,1027.47 67.05,1022.58 68.00,1020.50 C68.95,1018.42 69.63,1016.20 71.50,1014.20 C73.37,1012.20 76.32,1009.93 79.20,1008.50 C82.08,1007.07 84.00,1006.25 88.80,1005.60 C93.60,1004.95 101.13,1004.83 108.00,1004.60 C114.87,1004.37 122.30,1004.35 130.00,1004.20 C137.70,1004.05 150.17,1003.78 154.20,1003.70" fill="none" stroke="#66A640" stroke-width="2.6" stroke-linejoin="round" stroke-linecap="round" opacity="1"/>
<path d="M63.00,1015.90 C63.47,1017.70 64.97,1025.93 65.80,1026.70 C66.63,1027.47 67.05,1022.58 68.00,1020.50 C68.95,1018.42 69.63,1016.20 71.50,1014.20 C73.37,1012.20 76.32,1009.93 79.20,1008.50 C82.08,1007.07 84.00,1006.25 88.80,1005.60 C93.60,1004.95 101.13,1004.83 108.00,1004.60 C114.87,1004.37 122.30,1004.35 130.00,1004.20 C137.70,1004.05 150.17,1003.78 154.20,1003.70" fill="none" stroke="#33287E" stroke-width="1.6" stroke-linejoin="round" stroke-linecap="round" opacity="1"/>
<path d="M63.00,1015.90 C63.47,1017.70 64.97,1025.93 65.80,1026.70 C66.63,1027.47 67.05,1022.58 68.00,1020.50 C68.95,1018.42 69.63,1016.20 71.50,1014.20 C73.37,1012.20 76.32,1009.93 79.20,1008.50 C82.08,1007.07 84.00,1006.25 88.80,1005.60 C93.60,1004.95 101.13,1004.83 108.00,1004.60 C114.87,1004.37 122.30,1004.35 130.00,1004.20 C137.70,1004.05 150.17,1003.78 154.20,1003.70" fill="none" stroke="#BC3B22" stroke-width="1.6" stroke-linejoin="round" stroke-linecap="round" opacity="1"/>
<path d="M63.00,1015.90 C63.47,1017.70 64.97,1025.93 65.80,1026.70 C66.63,1027.47 67.05,1022.58 68.00,1020.50 C68.95,1018.42 69.63,1016.20 71.50,1014.20 C73.37,1012.20 76.32,1009.93 79.20,1008.50 C82.08,1007.07 84.00,1006.25 88.80,1005.60 C93.60,1004.95 101.13,1004.83 108.00,1004.60 C114.87,1004.37 122.30,1004.35 130.00,1004.20 C137.70,1004.05 150.17,1003.78 154.20,1003.70" fill="none" stroke="#8E3D92" stroke-width="1.6" stroke-linejoin="round" stroke-linecap="round" opacity="1"/>
<path d="M63.00,1015.74 L63.41,1016.70 L64.00,1017.88 L64.69,1019.00 L65.43,1018.85 L65.86,1017.57 L66.26,1015.92 L66.62,1014.57 L66.86,1012.80 L67.16,1010.84 L67.48,1009.21 L67.68,1007.60 L67.94,1006.07 L68.15,1004.54 L68.43,1002.90 L68.73,1000.91 L69.11,999.18 L69.43,997.82 L69.80,996.13 L70.20,994.70 L70.63,993.09 L71.08,991.18 L71.54,990.06 L72.01,988.44 L72.50,986.78 L72.98,985.17 L73.47,984.27 L73.96,982.68 L74.45,981.53 L74.93,980.39 L75.40,979.13 L75.95,977.95 L76.50,976.44 L77.03,975.58 L77.56,974.35 L78.10,973.68 L78.64,972.74 L79.20,971.40 L79.77,970.57 L80.36,969.77 L80.77,969.65 L81.20,968.76 L81.67,968.26 L82.14,967.47 L82.62,967.02 L83.11,966.38 L83.61,965.80 L84.11,965.40 L84.63,964.86 L85.15,964.53 L85.68,963.88 L86.23,963.52 L86.78,962.97 L87.34,962.54 L87.92,961.85 L88.50,961.05 L89.08,960.98 L89.66,960.59 L90.25,960.13 L90.85,959.49 L91.47,959.20 L92.09,958.29 L92.73,958.55 L93.37,957.85 L94.02,957.04 L94.66,956.25 L95.31,957.09 L95.96,956.96 L96.60,954.86 L97.24,955.83 L97.88,954.57 L98.50,953.50 L99.11,953.34 L99.72,954.05 L100.35,953.88 L100.98,951.12 L101.61,952.23 L102.24,950.00 L102.87,951.58 L103.49,949.82 L104.11,951.17 L104.42,951.29 L104.72,949.38 L105.31,950.69 L105.60,947.91 L106.17,946.50 L106.72,948.04 L107.25,945.28 L107.51,945.71 L108.00,946.11 L108.65,946.34 L109.23,943.69 L109.74,942.50 L109.98,945.96 L110.22,943.09 L110.67,945.51 L110.89,944.94 L111.11,942.16 L111.56,941.98 L112.04,941.73 L112.56,941.85 L113.14,941.14 L113.80,940.52 L114.41,940.52 L115.04,942.03 L115.37,939.45 L116.03,938.75 L116.72,940.22 L117.44,937.08 L118.17,937.23 L118.93,941.33 L119.32,938.32 L120.11,938.33 L120.52,934.64 L120.93,937.26 L121.34,938.29 L121.76,934.32 L122.19,938.38 L122.62,938.42 L123.06,934.22 L123.50,938.23 L124.15,936.92 L124.81,938.40 L125.47,935.79 L126.15,938.43 L126.50,938.64 L126.85,932.89 L127.20,933.11 L127.55,938.02 L128.26,940.31 L128.62,934.37 L128.99,936.02 L129.72,937.07 L130.47,934.68 L131.23,934.95 L132.01,934.42 L132.40,934.85 L133.19,936.65 L133.99,934.08 L134.40,934.67 L134.81,937.94 L135.22,931.63 L135.64,936.14 L136.05,937.48 L136.48,933.86 L136.90,933.07 L137.24,937.91 L137.59,933.12 L137.95,932.65 L138.32,934.68 L139.09,936.80 L139.49,931.75 L139.89,933.55 L140.30,933.60 L140.72,937.75 L141.14,934.39 L141.57,937.84 L142.00,932.03 L142.44,933.39 L142.87,935.97 L143.31,937.90 L143.75,934.21 L144.19,932.26 L144.63,931.34 L145.08,934.72 L145.51,931.83 L145.95,936.95 L146.39,937.17 L146.82,931.63 L147.25,932.38 L147.67,936.77 L148.09,935.34 L148.50,936.68 L148.91,932.76 L149.70,930.87 L150.08,932.19 L150.46,936.37 L150.82,931.94 L151.18,932.53 L151.85,933.05 L152.48,933.01 L153.05,932.86 L153.56,937.10 L153.79,930.66 L154.00,929.36 L154.20,937.22" fill="none" stroke="#D6982A" stroke-width="2.4" stroke-linejoin="round" stroke-linecap="round"/>
<line x1="60.80" y1="991.00" x2="60.80" y2="1006.00" stroke="#222" stroke-width="1.1"/>
<path d="M58.80,1004.50 L62.80,1004.50 L60.80,1008.50 Z" fill="#222"/>
<text x="64.30" y="969.80" font-size="7.9" text-anchor="middle" fill="#1e1e1e" transform="rotate(-90 64.30 969.80)">Thrombin</text>
<path d="M195.60,1015.90 L215.00,1015.90" fill="none" stroke="#BC3B22" stroke-width="1.8" stroke-linejoin="round" stroke-linecap="round" opacity="1"/>
<path d="M215.00,1015.90 C215.33,1016.42 215.83,1019.15 217.00,1019.00 C218.17,1018.85 219.32,1016.17 222.00,1015.00 C224.68,1013.83 227.60,1012.92 233.10,1012.00 C238.60,1011.08 247.18,1010.08 255.00,1009.50 C262.82,1008.92 271.47,1008.75 280.00,1008.50 C288.53,1008.25 301.83,1008.08 306.20,1008.00" fill="none" stroke="#66A640" stroke-width="1.7" stroke-linejoin="round" stroke-linecap="round" opacity="1"/>
<path d="M215.00,1015.90 C215.33,1016.42 215.83,1019.23 217.00,1019.00 C218.17,1018.77 219.32,1015.78 222.00,1014.50 C224.68,1013.22 227.60,1012.30 233.10,1011.30 C238.60,1010.30 247.18,1009.22 255.00,1008.50 C262.82,1007.78 271.47,1007.37 280.00,1007.00 C288.53,1006.63 301.83,1006.42 306.20,1006.30" fill="none" stroke="#BC3B22" stroke-width="1.7" stroke-linejoin="round" stroke-linecap="round" opacity="1"/>
<path d="M215.00,1015.90 C215.33,1016.42 215.83,1019.28 217.00,1019.00 C218.17,1018.72 219.32,1015.57 222.00,1014.20 C224.68,1012.83 227.60,1011.87 233.10,1010.80 C238.60,1009.73 247.18,1008.57 255.00,1007.80 C262.82,1007.03 271.47,1006.62 280.00,1006.20 C288.53,1005.78 301.83,1005.45 306.20,1005.30" fill="none" stroke="#8E3D92" stroke-width="1.7" stroke-linejoin="round" stroke-linecap="round" opacity="1"/>
<path d="M214.00,1016.00 C214.33,1016.58 215.17,1019.50 216.00,1019.50 C216.83,1019.50 217.50,1017.45 219.00,1016.00 C220.50,1014.55 222.65,1012.25 225.00,1010.80 C227.35,1009.35 230.02,1008.17 233.10,1007.30 C236.18,1006.43 239.85,1006.08 243.50,1005.60 C247.15,1005.12 248.92,1004.75 255.00,1004.40 C261.08,1004.05 271.47,1003.78 280.00,1003.50 C288.53,1003.22 301.83,1002.83 306.20,1002.70" fill="none" stroke="#33287E" stroke-width="1.8" stroke-linejoin="round" stroke-linecap="round" opacity="1"/>
<path d="M215.00,1015.90 C215.42,1015.92 216.42,1018.02 217.50,1016.00 C218.58,1013.98 219.87,1007.93 221.50,1003.80 C223.13,999.67 225.18,994.85 227.30,991.20 C229.42,987.55 231.50,984.40 234.20,981.90 C236.90,979.40 240.03,978.02 243.50,976.20 C246.97,974.38 250.58,972.45 255.00,971.00 C259.42,969.55 265.12,968.45 270.00,967.50 C274.88,966.55 278.27,965.90 284.30,965.30 C290.33,964.70 302.55,964.13 306.20,963.90" fill="none" stroke="#D6982A" stroke-width="2.0" stroke-linejoin="round" stroke-linecap="round" opacity="1"/>
<line x1="215.10" y1="990.60" x2="215.10" y2="1005.50" stroke="#222" stroke-width="1.1"/>
<path d="M213.10,1004.00 L217.10,1004.00 L215.10,1008.00 Z" fill="#222"/>
<text x="217.40" y="975.20" font-size="7.5" text-anchor="middle" fill="#1e1e1e" transform="rotate(-90 217.40 975.20)">TRAP</text>
<line x1="347.60" y1="925.40" x2="347.60" y2="1013.80" stroke="#8E3D92" stroke-width="1.8"/>
<line x1="347.60" y1="1013.80" x2="347.60" y2="1023.00" stroke="#66A640" stroke-width="1.6"/>
<path d="M347.60,1013.80 C351.33,1013.77 362.93,1013.68 370.00,1013.60 C377.07,1013.52 384.88,1013.47 390.00,1013.30 C395.12,1013.13 397.00,1013.05 400.70,1012.60 C404.40,1012.15 408.32,1011.27 412.20,1010.60 C416.08,1009.93 420.15,1009.17 424.00,1008.60 C427.85,1008.03 431.47,1007.60 435.30,1007.20 C439.13,1006.80 443.15,1006.45 447.00,1006.20 C450.85,1005.95 456.50,1005.78 458.40,1005.70" fill="none" stroke="#33287E" stroke-width="1.8" stroke-linejoin="round" stroke-linecap="round" opacity="1"/>
<path d="M347.60,1013.80 C351.33,1013.72 363.27,1013.55 370.00,1013.30 C376.73,1013.05 382.88,1012.75 388.00,1012.30 C393.12,1011.85 396.67,1011.40 400.70,1010.60 C404.73,1009.80 408.32,1008.38 412.20,1007.50 C416.08,1006.62 420.15,1005.90 424.00,1005.30 C427.85,1004.70 431.47,1004.32 435.30,1003.90 C439.13,1003.48 443.15,1003.08 447.00,1002.80 C450.85,1002.52 456.50,1002.30 458.40,1002.20" fill="none" stroke="#66A640" stroke-width="1.7" stroke-linejoin="round" stroke-linecap="round" opacity="1"/>
<path d="M347.60,1013.80 C351.33,1013.70 364.27,1013.40 370.00,1013.20 C375.73,1013.00 378.33,1012.97 382.00,1012.60 C385.67,1012.23 388.88,1011.68 392.00,1011.00 C395.12,1010.32 397.33,1009.58 400.70,1008.50 C404.07,1007.42 408.32,1005.55 412.20,1004.50 C416.08,1003.45 420.15,1002.80 424.00,1002.20 C427.85,1001.60 431.47,1001.25 435.30,1000.90 C439.13,1000.55 443.15,1000.30 447.00,1000.10 C450.85,999.90 456.50,999.77 458.40,999.70" fill="none" stroke="#8E3D92" stroke-width="1.7" stroke-linejoin="round" stroke-linecap="round" opacity="1"/>
<path d="M347.60,1013.60 C349.67,1013.47 356.27,1013.15 360.00,1012.80 C363.73,1012.45 367.50,1011.97 370.00,1011.50 C372.50,1011.03 373.33,1010.92 375.00,1010.00 C376.67,1009.08 378.05,1008.25 380.00,1006.00 C381.95,1003.75 384.45,999.20 386.70,996.50 C388.95,993.80 390.80,991.58 393.50,989.80 C396.20,988.02 399.32,986.92 402.90,985.80 C406.48,984.68 409.60,984.27 415.00,983.10 C420.40,981.93 428.07,979.77 435.30,978.80 C442.53,977.83 454.55,977.55 458.40,977.30" fill="none" stroke="#BC3B22" stroke-width="1.8" stroke-linejoin="round" stroke-linecap="round" opacity="1"/>
<path d="M347.60,1013.60 C349.67,1013.47 356.60,1013.15 360.00,1012.80 C363.40,1012.45 366.13,1012.08 368.00,1011.50 C369.87,1010.92 369.65,1012.25 371.20,1009.30 C372.75,1006.35 375.17,998.17 377.30,993.80 C379.43,989.43 381.53,985.90 384.00,983.10 C386.47,980.30 389.18,978.47 392.10,977.00 C395.02,975.53 397.68,974.97 401.50,974.30 C405.32,973.63 409.42,973.25 415.00,973.00 C420.58,972.75 427.77,972.73 435.00,972.80 C442.23,972.87 454.50,973.30 458.40,973.40" fill="none" stroke="#D6982A" stroke-width="2.0" stroke-linejoin="round" stroke-linecap="round" opacity="1"/>
<line x1="367.20" y1="987.70" x2="367.20" y2="1003.50" stroke="#222" stroke-width="1.1"/>
<path d="M365.20,1002.00 L369.20,1002.00 L367.20,1006.00 Z" fill="#222"/>
<text x="370.50" y="967.20" font-size="7.9" text-anchor="middle" fill="#1e1e1e" transform="rotate(-90 370.50 967.20)">Collagen</text>
<line x1="479.50" y1="965.00" x2="491.30" y2="965.00" stroke="#D6982A" stroke-width="1.4"/>
<text x="495.00" y="967.90" font-size="8" text-anchor="start" fill="#1e1e1e">Control</text>
<line x1="479.50" y1="977.00" x2="491.30" y2="977.00" stroke="#BC3B22" stroke-width="1.4"/>
<text x="495.00" y="979.90" font-size="8" text-anchor="start" fill="#1e1e1e">PSI A1</text>
<line x1="479.50" y1="989.25" x2="491.30" y2="989.25" stroke="#66A640" stroke-width="1.4"/>
<text x="495.00" y="992.15" font-size="8" text-anchor="start" fill="#1e1e1e">PSI B1</text>
<line x1="479.50" y1="1001.75" x2="491.30" y2="1001.75" stroke="#33287E" stroke-width="1.4"/>
<text x="495.00" y="1004.65" font-size="8" text-anchor="start" fill="#1e1e1e">PSI C1</text>
<line x1="479.50" y1="1013.75" x2="491.30" y2="1013.75" stroke="#8E3D92" stroke-width="1.4"/>
<text x="495.00" y="1016.65" font-size="8" text-anchor="start" fill="#1e1e1e">PSI E1</text>
</svg></body></html>
